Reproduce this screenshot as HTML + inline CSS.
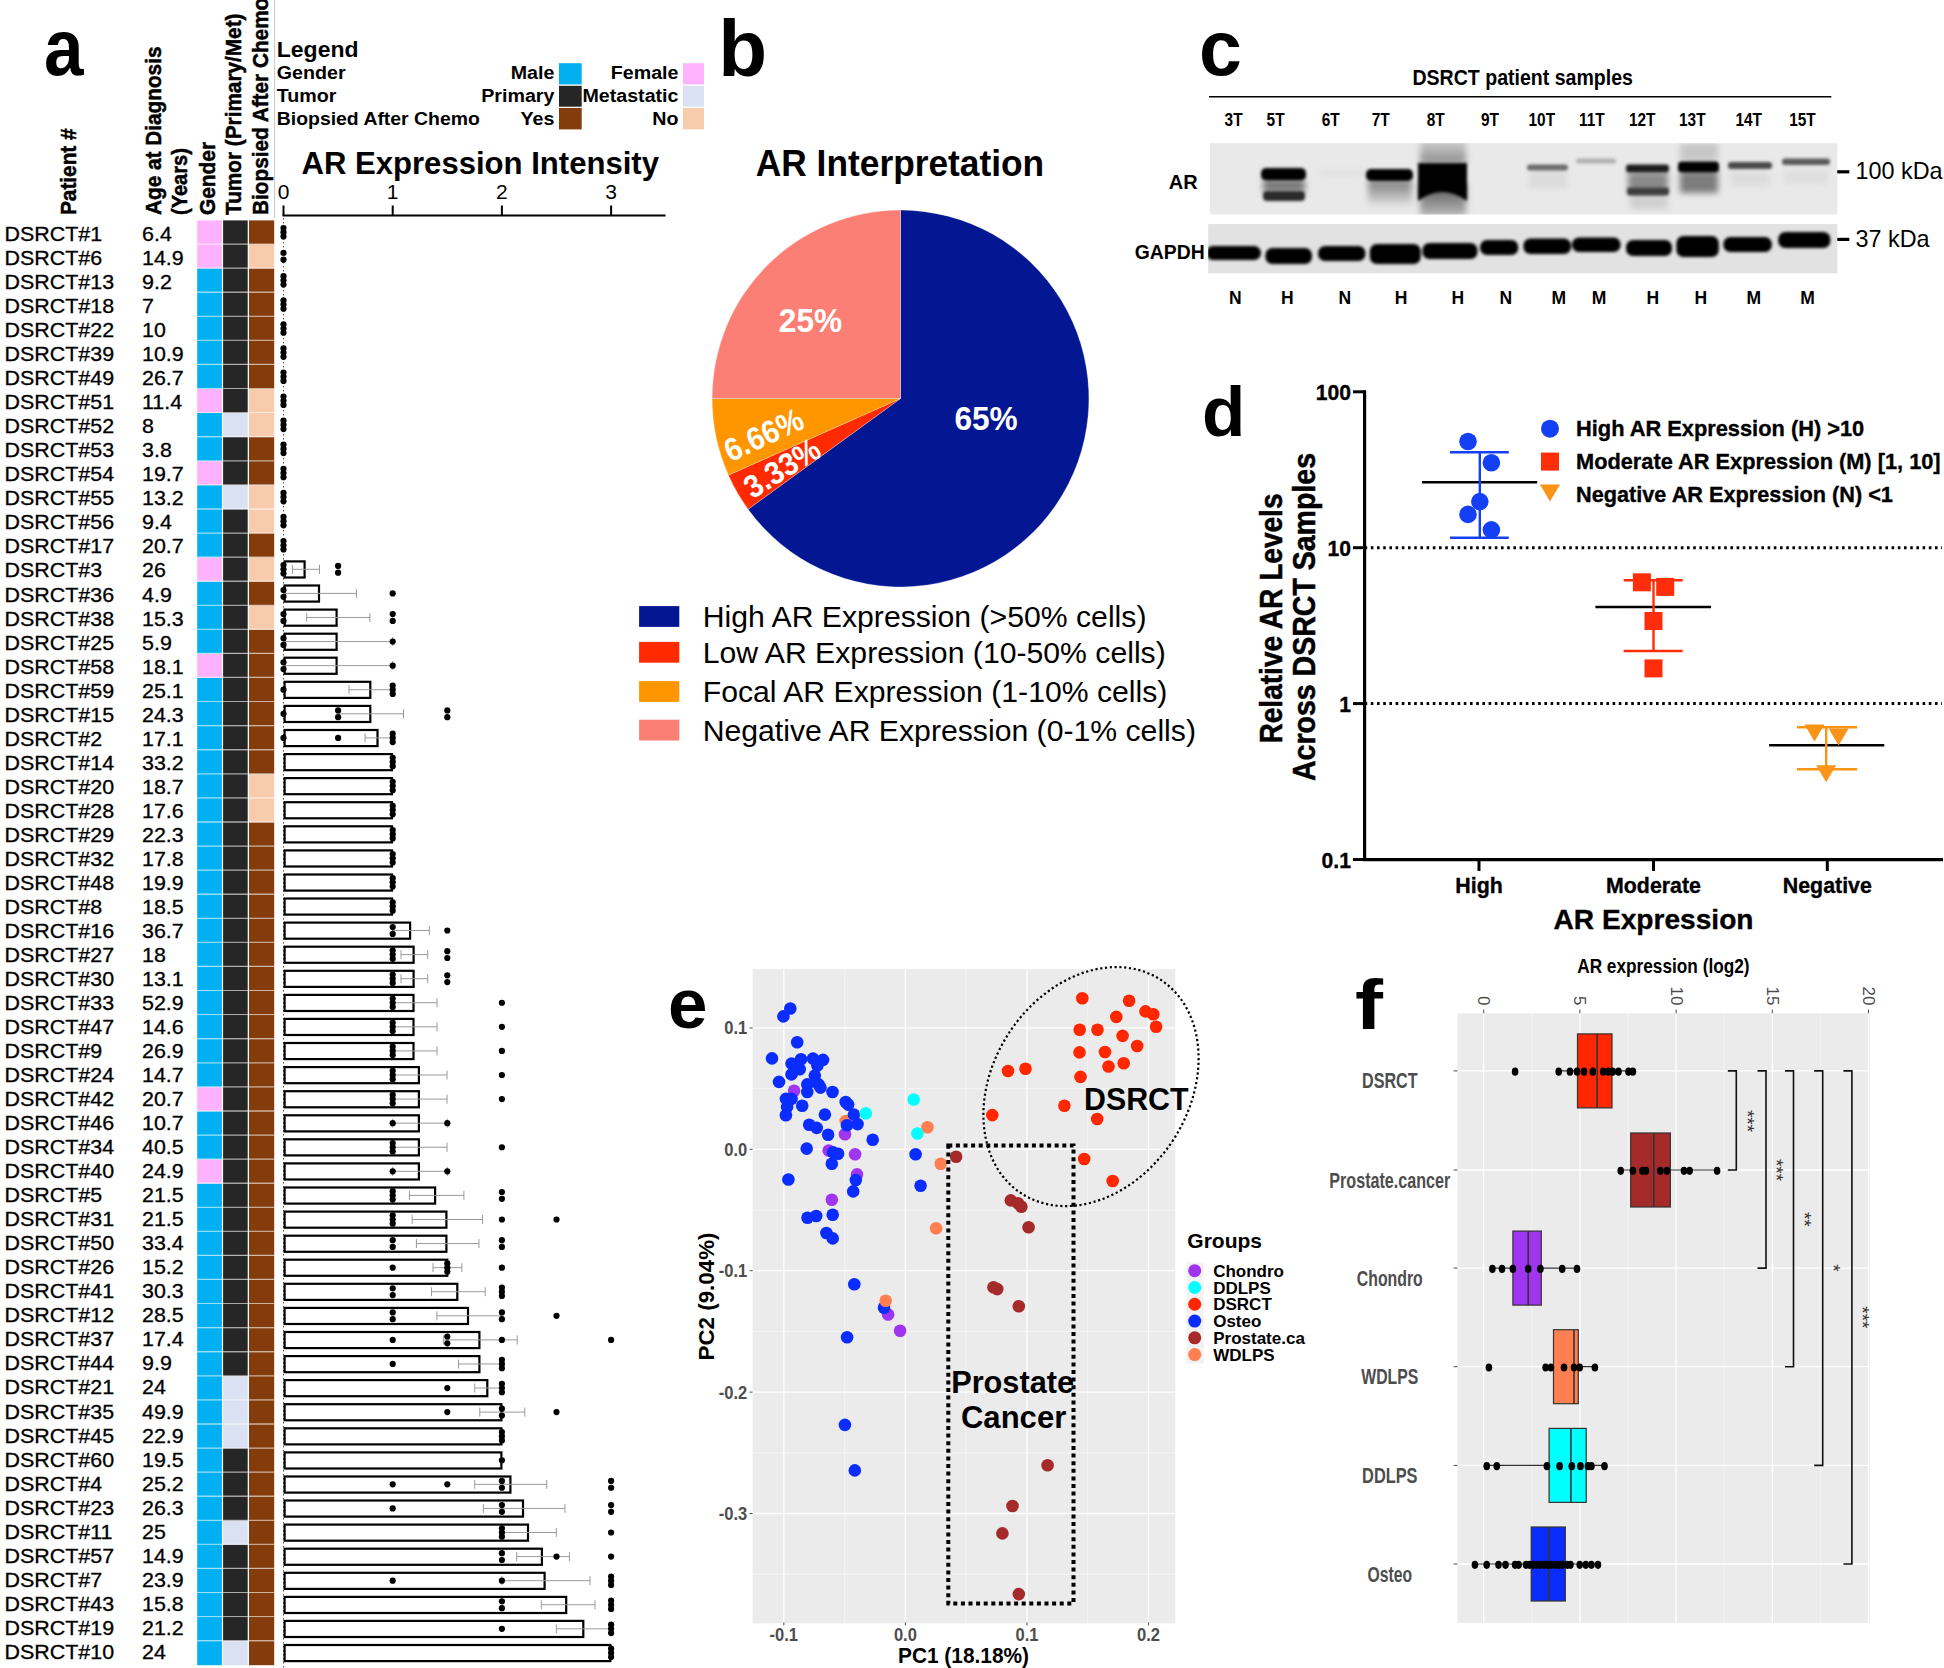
<!DOCTYPE html>
<html><head><meta charset="utf-8"><title>AR expression in DSRCT</title>
<style>
html,body{margin:0;padding:0;background:#fff;overflow:hidden;}
svg{display:block;font-family:"Liberation Sans",Arial,Helvetica,sans-serif;}
</style></head>
<body>
<svg width="1944" height="1668" viewBox="0 0 1944 1668">
<rect x="0" y="0" width="1944" height="1668" fill="#fff"/>
<text x="44.0" y="74.6" font-size="79" font-weight="bold" textLength="39.5" lengthAdjust="spacingAndGlyphs">a</text>
<text x="75.5" y="215.0" font-size="22.2" font-weight="bold" textLength="86.6" lengthAdjust="spacingAndGlyphs" transform="rotate(-90 75.5 215.0)" stroke="#000" stroke-width="0.5">Patient #</text>
<text x="160.9" y="215.0" font-size="22.2" font-weight="bold" textLength="168.5" lengthAdjust="spacingAndGlyphs" transform="rotate(-90 160.9 215.0)" stroke="#000" stroke-width="0.5">Age at Diagnosis</text>
<text x="187.2" y="215.0" font-size="22.2" font-weight="bold" textLength="66.9" lengthAdjust="spacingAndGlyphs" transform="rotate(-90 187.2 215.0)" stroke="#000" stroke-width="0.5">(Years)</text>
<text x="215.3" y="215.0" font-size="22.2" font-weight="bold" textLength="73.1" lengthAdjust="spacingAndGlyphs" transform="rotate(-90 215.3 215.0)" stroke="#000" stroke-width="0.5">Gender</text>
<text x="241.1" y="215.0" font-size="22.2" font-weight="bold" textLength="201.5" lengthAdjust="spacingAndGlyphs" transform="rotate(-90 241.1 215.0)" stroke="#000" stroke-width="0.5">Tumor (Primary/Met)</text>
<text x="267.5" y="215.0" font-size="22.2" font-weight="bold" textLength="217.3" lengthAdjust="spacingAndGlyphs" transform="rotate(-90 267.5 215.0)" stroke="#000" stroke-width="0.5">Biopsied After Chemo</text>
<line x1="274.60" y1="0.00" x2="274.60" y2="218.00" stroke="#c8c8c8" stroke-width="1" />
<text x="276.8" y="56.7" font-size="22" font-weight="bold" textLength="81.7" lengthAdjust="spacingAndGlyphs">Legend</text>
<text x="276.8" y="79.4" font-size="18.8" font-weight="bold" textLength="68.8" lengthAdjust="spacingAndGlyphs">Gender</text>
<text x="276.8" y="102.2" font-size="18.8" font-weight="bold" textLength="59.7" lengthAdjust="spacingAndGlyphs">Tumor</text>
<text x="276.8" y="124.6" font-size="18.8" font-weight="bold" textLength="203.0" lengthAdjust="spacingAndGlyphs">Biopsied After Chemo</text>
<text x="554.4" y="79.4" font-size="18.8" font-weight="bold" text-anchor="end" textLength="43.7" lengthAdjust="spacingAndGlyphs">Male</text>
<text x="554.4" y="102.2" font-size="18.8" font-weight="bold" text-anchor="end" textLength="73.2" lengthAdjust="spacingAndGlyphs">Primary</text>
<text x="554.4" y="124.6" font-size="18.8" font-weight="bold" text-anchor="end" textLength="33.9" lengthAdjust="spacingAndGlyphs">Yes</text>
<text x="678.5" y="79.4" font-size="18.8" font-weight="bold" text-anchor="end" textLength="67.7" lengthAdjust="spacingAndGlyphs">Female</text>
<text x="678.5" y="102.2" font-size="18.8" font-weight="bold" text-anchor="end" textLength="96.1" lengthAdjust="spacingAndGlyphs">Metastatic</text>
<text x="678.5" y="124.6" font-size="18.8" font-weight="bold" text-anchor="end" textLength="26.2" lengthAdjust="spacingAndGlyphs">No</text>
<rect x="559.00" y="63.20" width="22.70" height="21.20" fill="#00b0f0" />
<rect x="683.00" y="63.20" width="21.00" height="21.20" fill="#ffb3ff" />
<rect x="559.00" y="85.80" width="22.70" height="20.90" fill="#262626" />
<rect x="683.00" y="85.80" width="21.00" height="20.90" fill="#d9e1f2" />
<rect x="559.00" y="108.00" width="22.70" height="21.40" fill="#843c0c" />
<rect x="683.00" y="108.00" width="21.00" height="21.40" fill="#f8cbad" />
<text x="301.5" y="174.3" font-size="31" font-weight="bold" textLength="357.5" lengthAdjust="spacingAndGlyphs">AR Expression Intensity</text>
<line x1="282.50" y1="215.50" x2="665.50" y2="215.50" stroke="#000" stroke-width="2.2" />
<line x1="283.50" y1="205.50" x2="283.50" y2="215.50" stroke="#000" stroke-width="2" />
<text x="283.5" y="199.3" font-size="21" text-anchor="middle">0</text>
<line x1="392.70" y1="205.50" x2="392.70" y2="215.50" stroke="#000" stroke-width="2" />
<text x="392.7" y="199.3" font-size="21" text-anchor="middle">1</text>
<line x1="501.90" y1="205.50" x2="501.90" y2="215.50" stroke="#000" stroke-width="2" />
<text x="501.9" y="199.3" font-size="21" text-anchor="middle">2</text>
<line x1="611.10" y1="205.50" x2="611.10" y2="215.50" stroke="#000" stroke-width="2" />
<text x="611.1" y="199.3" font-size="21" text-anchor="middle">3</text>
<g font-size="20.5" stroke="#000" stroke-width="0.3">
<text x="4.6" y="241.0" textLength="97.6" lengthAdjust="spacingAndGlyphs">DSRCT#1</text>
<text x="142.0" y="241.0" textLength="29.8" lengthAdjust="spacingAndGlyphs">6.4</text>
<text x="4.6" y="265.0" textLength="97.6" lengthAdjust="spacingAndGlyphs">DSRCT#6</text>
<text x="142.0" y="265.0" textLength="41.7" lengthAdjust="spacingAndGlyphs">14.9</text>
<text x="4.6" y="289.1" textLength="109.5" lengthAdjust="spacingAndGlyphs">DSRCT#13</text>
<text x="142.0" y="289.1" textLength="29.8" lengthAdjust="spacingAndGlyphs">9.2</text>
<text x="4.6" y="313.1" textLength="109.5" lengthAdjust="spacingAndGlyphs">DSRCT#18</text>
<text x="142.0" y="313.1" textLength="11.9" lengthAdjust="spacingAndGlyphs">7</text>
<text x="4.6" y="337.1" textLength="109.5" lengthAdjust="spacingAndGlyphs">DSRCT#22</text>
<text x="142.0" y="337.1" textLength="23.8" lengthAdjust="spacingAndGlyphs">10</text>
<text x="4.6" y="361.1" textLength="109.5" lengthAdjust="spacingAndGlyphs">DSRCT#39</text>
<text x="142.0" y="361.1" textLength="41.7" lengthAdjust="spacingAndGlyphs">10.9</text>
<text x="4.6" y="385.2" textLength="109.5" lengthAdjust="spacingAndGlyphs">DSRCT#49</text>
<text x="142.0" y="385.2" textLength="41.7" lengthAdjust="spacingAndGlyphs">26.7</text>
<text x="4.6" y="409.2" textLength="109.5" lengthAdjust="spacingAndGlyphs">DSRCT#51</text>
<text x="142.0" y="409.2" textLength="40.1" lengthAdjust="spacingAndGlyphs">11.4</text>
<text x="4.6" y="433.2" textLength="109.5" lengthAdjust="spacingAndGlyphs">DSRCT#52</text>
<text x="142.0" y="433.2" textLength="11.9" lengthAdjust="spacingAndGlyphs">8</text>
<text x="4.6" y="457.3" textLength="109.5" lengthAdjust="spacingAndGlyphs">DSRCT#53</text>
<text x="142.0" y="457.3" textLength="29.8" lengthAdjust="spacingAndGlyphs">3.8</text>
<text x="4.6" y="481.3" textLength="109.5" lengthAdjust="spacingAndGlyphs">DSRCT#54</text>
<text x="142.0" y="481.3" textLength="41.7" lengthAdjust="spacingAndGlyphs">19.7</text>
<text x="4.6" y="505.3" textLength="109.5" lengthAdjust="spacingAndGlyphs">DSRCT#55</text>
<text x="142.0" y="505.3" textLength="41.7" lengthAdjust="spacingAndGlyphs">13.2</text>
<text x="4.6" y="529.4" textLength="109.5" lengthAdjust="spacingAndGlyphs">DSRCT#56</text>
<text x="142.0" y="529.4" textLength="29.8" lengthAdjust="spacingAndGlyphs">9.4</text>
<text x="4.6" y="553.4" textLength="109.5" lengthAdjust="spacingAndGlyphs">DSRCT#17</text>
<text x="142.0" y="553.4" textLength="41.7" lengthAdjust="spacingAndGlyphs">20.7</text>
<text x="4.6" y="577.4" textLength="97.6" lengthAdjust="spacingAndGlyphs">DSRCT#3</text>
<text x="142.0" y="577.4" textLength="23.8" lengthAdjust="spacingAndGlyphs">26</text>
<text x="4.6" y="601.5" textLength="109.5" lengthAdjust="spacingAndGlyphs">DSRCT#36</text>
<text x="142.0" y="601.5" textLength="29.8" lengthAdjust="spacingAndGlyphs">4.9</text>
<text x="4.6" y="625.5" textLength="109.5" lengthAdjust="spacingAndGlyphs">DSRCT#38</text>
<text x="142.0" y="625.5" textLength="41.7" lengthAdjust="spacingAndGlyphs">15.3</text>
<text x="4.6" y="649.5" textLength="109.5" lengthAdjust="spacingAndGlyphs">DSRCT#25</text>
<text x="142.0" y="649.5" textLength="29.8" lengthAdjust="spacingAndGlyphs">5.9</text>
<text x="4.6" y="673.5" textLength="109.5" lengthAdjust="spacingAndGlyphs">DSRCT#58</text>
<text x="142.0" y="673.5" textLength="41.7" lengthAdjust="spacingAndGlyphs">18.1</text>
<text x="4.6" y="697.6" textLength="109.5" lengthAdjust="spacingAndGlyphs">DSRCT#59</text>
<text x="142.0" y="697.6" textLength="41.7" lengthAdjust="spacingAndGlyphs">25.1</text>
<text x="4.6" y="721.6" textLength="109.5" lengthAdjust="spacingAndGlyphs">DSRCT#15</text>
<text x="142.0" y="721.6" textLength="41.7" lengthAdjust="spacingAndGlyphs">24.3</text>
<text x="4.6" y="745.6" textLength="97.6" lengthAdjust="spacingAndGlyphs">DSRCT#2</text>
<text x="142.0" y="745.6" textLength="41.7" lengthAdjust="spacingAndGlyphs">17.1</text>
<text x="4.6" y="769.7" textLength="109.5" lengthAdjust="spacingAndGlyphs">DSRCT#14</text>
<text x="142.0" y="769.7" textLength="41.7" lengthAdjust="spacingAndGlyphs">33.2</text>
<text x="4.6" y="793.7" textLength="109.5" lengthAdjust="spacingAndGlyphs">DSRCT#20</text>
<text x="142.0" y="793.7" textLength="41.7" lengthAdjust="spacingAndGlyphs">18.7</text>
<text x="4.6" y="817.7" textLength="109.5" lengthAdjust="spacingAndGlyphs">DSRCT#28</text>
<text x="142.0" y="817.7" textLength="41.7" lengthAdjust="spacingAndGlyphs">17.6</text>
<text x="4.6" y="841.8" textLength="109.5" lengthAdjust="spacingAndGlyphs">DSRCT#29</text>
<text x="142.0" y="841.8" textLength="41.7" lengthAdjust="spacingAndGlyphs">22.3</text>
<text x="4.6" y="865.8" textLength="109.5" lengthAdjust="spacingAndGlyphs">DSRCT#32</text>
<text x="142.0" y="865.8" textLength="41.7" lengthAdjust="spacingAndGlyphs">17.8</text>
<text x="4.6" y="889.8" textLength="109.5" lengthAdjust="spacingAndGlyphs">DSRCT#48</text>
<text x="142.0" y="889.8" textLength="41.7" lengthAdjust="spacingAndGlyphs">19.9</text>
<text x="4.6" y="913.8" textLength="97.6" lengthAdjust="spacingAndGlyphs">DSRCT#8</text>
<text x="142.0" y="913.8" textLength="41.7" lengthAdjust="spacingAndGlyphs">18.5</text>
<text x="4.6" y="937.9" textLength="109.5" lengthAdjust="spacingAndGlyphs">DSRCT#16</text>
<text x="142.0" y="937.9" textLength="41.7" lengthAdjust="spacingAndGlyphs">36.7</text>
<text x="4.6" y="961.9" textLength="109.5" lengthAdjust="spacingAndGlyphs">DSRCT#27</text>
<text x="142.0" y="961.9" textLength="23.8" lengthAdjust="spacingAndGlyphs">18</text>
<text x="4.6" y="985.9" textLength="109.5" lengthAdjust="spacingAndGlyphs">DSRCT#30</text>
<text x="142.0" y="985.9" textLength="41.7" lengthAdjust="spacingAndGlyphs">13.1</text>
<text x="4.6" y="1010.0" textLength="109.5" lengthAdjust="spacingAndGlyphs">DSRCT#33</text>
<text x="142.0" y="1010.0" textLength="41.7" lengthAdjust="spacingAndGlyphs">52.9</text>
<text x="4.6" y="1034.0" textLength="109.5" lengthAdjust="spacingAndGlyphs">DSRCT#47</text>
<text x="142.0" y="1034.0" textLength="41.7" lengthAdjust="spacingAndGlyphs">14.6</text>
<text x="4.6" y="1058.0" textLength="97.6" lengthAdjust="spacingAndGlyphs">DSRCT#9</text>
<text x="142.0" y="1058.0" textLength="41.7" lengthAdjust="spacingAndGlyphs">26.9</text>
<text x="4.6" y="1082.1" textLength="109.5" lengthAdjust="spacingAndGlyphs">DSRCT#24</text>
<text x="142.0" y="1082.1" textLength="41.7" lengthAdjust="spacingAndGlyphs">14.7</text>
<text x="4.6" y="1106.1" textLength="109.5" lengthAdjust="spacingAndGlyphs">DSRCT#42</text>
<text x="142.0" y="1106.1" textLength="41.7" lengthAdjust="spacingAndGlyphs">20.7</text>
<text x="4.6" y="1130.1" textLength="109.5" lengthAdjust="spacingAndGlyphs">DSRCT#46</text>
<text x="142.0" y="1130.1" textLength="41.7" lengthAdjust="spacingAndGlyphs">10.7</text>
<text x="4.6" y="1154.1" textLength="109.5" lengthAdjust="spacingAndGlyphs">DSRCT#34</text>
<text x="142.0" y="1154.1" textLength="41.7" lengthAdjust="spacingAndGlyphs">40.5</text>
<text x="4.6" y="1178.2" textLength="109.5" lengthAdjust="spacingAndGlyphs">DSRCT#40</text>
<text x="142.0" y="1178.2" textLength="41.7" lengthAdjust="spacingAndGlyphs">24.9</text>
<text x="4.6" y="1202.2" textLength="97.6" lengthAdjust="spacingAndGlyphs">DSRCT#5</text>
<text x="142.0" y="1202.2" textLength="41.7" lengthAdjust="spacingAndGlyphs">21.5</text>
<text x="4.6" y="1226.2" textLength="109.5" lengthAdjust="spacingAndGlyphs">DSRCT#31</text>
<text x="142.0" y="1226.2" textLength="41.7" lengthAdjust="spacingAndGlyphs">21.5</text>
<text x="4.6" y="1250.3" textLength="109.5" lengthAdjust="spacingAndGlyphs">DSRCT#50</text>
<text x="142.0" y="1250.3" textLength="41.7" lengthAdjust="spacingAndGlyphs">33.4</text>
<text x="4.6" y="1274.3" textLength="109.5" lengthAdjust="spacingAndGlyphs">DSRCT#26</text>
<text x="142.0" y="1274.3" textLength="41.7" lengthAdjust="spacingAndGlyphs">15.2</text>
<text x="4.6" y="1298.3" textLength="109.5" lengthAdjust="spacingAndGlyphs">DSRCT#41</text>
<text x="142.0" y="1298.3" textLength="41.7" lengthAdjust="spacingAndGlyphs">30.3</text>
<text x="4.6" y="1322.4" textLength="109.5" lengthAdjust="spacingAndGlyphs">DSRCT#12</text>
<text x="142.0" y="1322.4" textLength="41.7" lengthAdjust="spacingAndGlyphs">28.5</text>
<text x="4.6" y="1346.4" textLength="109.5" lengthAdjust="spacingAndGlyphs">DSRCT#37</text>
<text x="142.0" y="1346.4" textLength="41.7" lengthAdjust="spacingAndGlyphs">17.4</text>
<text x="4.6" y="1370.4" textLength="109.5" lengthAdjust="spacingAndGlyphs">DSRCT#44</text>
<text x="142.0" y="1370.4" textLength="29.8" lengthAdjust="spacingAndGlyphs">9.9</text>
<text x="4.6" y="1394.4" textLength="109.5" lengthAdjust="spacingAndGlyphs">DSRCT#21</text>
<text x="142.0" y="1394.4" textLength="23.8" lengthAdjust="spacingAndGlyphs">24</text>
<text x="4.6" y="1418.5" textLength="109.5" lengthAdjust="spacingAndGlyphs">DSRCT#35</text>
<text x="142.0" y="1418.5" textLength="41.7" lengthAdjust="spacingAndGlyphs">49.9</text>
<text x="4.6" y="1442.5" textLength="109.5" lengthAdjust="spacingAndGlyphs">DSRCT#45</text>
<text x="142.0" y="1442.5" textLength="41.7" lengthAdjust="spacingAndGlyphs">22.9</text>
<text x="4.6" y="1466.5" textLength="109.5" lengthAdjust="spacingAndGlyphs">DSRCT#60</text>
<text x="142.0" y="1466.5" textLength="41.7" lengthAdjust="spacingAndGlyphs">19.5</text>
<text x="4.6" y="1490.6" textLength="97.6" lengthAdjust="spacingAndGlyphs">DSRCT#4</text>
<text x="142.0" y="1490.6" textLength="41.7" lengthAdjust="spacingAndGlyphs">25.2</text>
<text x="4.6" y="1514.6" textLength="109.5" lengthAdjust="spacingAndGlyphs">DSRCT#23</text>
<text x="142.0" y="1514.6" textLength="41.7" lengthAdjust="spacingAndGlyphs">26.3</text>
<text x="4.6" y="1538.6" textLength="107.9" lengthAdjust="spacingAndGlyphs">DSRCT#11</text>
<text x="142.0" y="1538.6" textLength="23.8" lengthAdjust="spacingAndGlyphs">25</text>
<text x="4.6" y="1562.7" textLength="109.5" lengthAdjust="spacingAndGlyphs">DSRCT#57</text>
<text x="142.0" y="1562.7" textLength="41.7" lengthAdjust="spacingAndGlyphs">14.9</text>
<text x="4.6" y="1586.7" textLength="97.6" lengthAdjust="spacingAndGlyphs">DSRCT#7</text>
<text x="142.0" y="1586.7" textLength="41.7" lengthAdjust="spacingAndGlyphs">23.9</text>
<text x="4.6" y="1610.7" textLength="109.5" lengthAdjust="spacingAndGlyphs">DSRCT#43</text>
<text x="142.0" y="1610.7" textLength="41.7" lengthAdjust="spacingAndGlyphs">15.8</text>
<text x="4.6" y="1634.7" textLength="109.5" lengthAdjust="spacingAndGlyphs">DSRCT#19</text>
<text x="142.0" y="1634.7" textLength="41.7" lengthAdjust="spacingAndGlyphs">21.2</text>
<text x="4.6" y="1658.8" textLength="109.5" lengthAdjust="spacingAndGlyphs">DSRCT#10</text>
<text x="142.0" y="1658.8" textLength="23.8" lengthAdjust="spacingAndGlyphs">24</text>
</g>
<rect x="197.20" y="220.40" width="24.70" height="24.08" fill="#ffb3ff" />
<rect x="223.10" y="220.40" width="24.60" height="24.08" fill="#262626" />
<rect x="249.00" y="220.40" width="25.20" height="24.08" fill="#843c0c" />
<rect x="197.20" y="244.48" width="24.70" height="24.08" fill="#ffb3ff" />
<rect x="223.10" y="244.48" width="24.60" height="24.08" fill="#262626" />
<rect x="249.00" y="244.48" width="25.20" height="24.08" fill="#f8cbad" />
<rect x="197.20" y="268.56" width="24.70" height="24.08" fill="#00b0f0" />
<rect x="223.10" y="268.56" width="24.60" height="24.08" fill="#262626" />
<rect x="249.00" y="268.56" width="25.20" height="24.08" fill="#843c0c" />
<rect x="197.20" y="292.64" width="24.70" height="24.08" fill="#00b0f0" />
<rect x="223.10" y="292.64" width="24.60" height="24.08" fill="#262626" />
<rect x="249.00" y="292.64" width="25.20" height="24.08" fill="#843c0c" />
<rect x="197.20" y="316.72" width="24.70" height="24.08" fill="#00b0f0" />
<rect x="223.10" y="316.72" width="24.60" height="24.08" fill="#262626" />
<rect x="249.00" y="316.72" width="25.20" height="24.08" fill="#843c0c" />
<rect x="197.20" y="340.80" width="24.70" height="24.08" fill="#00b0f0" />
<rect x="223.10" y="340.80" width="24.60" height="24.08" fill="#262626" />
<rect x="249.00" y="340.80" width="25.20" height="24.08" fill="#843c0c" />
<rect x="197.20" y="364.88" width="24.70" height="24.08" fill="#00b0f0" />
<rect x="223.10" y="364.88" width="24.60" height="24.08" fill="#262626" />
<rect x="249.00" y="364.88" width="25.20" height="24.08" fill="#843c0c" />
<rect x="197.20" y="388.96" width="24.70" height="24.08" fill="#ffb3ff" />
<rect x="223.10" y="388.96" width="24.60" height="24.08" fill="#262626" />
<rect x="249.00" y="388.96" width="25.20" height="24.08" fill="#f8cbad" />
<rect x="197.20" y="413.04" width="24.70" height="24.08" fill="#00b0f0" />
<rect x="223.10" y="413.04" width="24.60" height="24.08" fill="#d9e1f2" />
<rect x="249.00" y="413.04" width="25.20" height="24.08" fill="#f8cbad" />
<rect x="197.20" y="437.12" width="24.70" height="24.08" fill="#00b0f0" />
<rect x="223.10" y="437.12" width="24.60" height="24.08" fill="#262626" />
<rect x="249.00" y="437.12" width="25.20" height="24.08" fill="#843c0c" />
<rect x="197.20" y="461.20" width="24.70" height="24.08" fill="#ffb3ff" />
<rect x="223.10" y="461.20" width="24.60" height="24.08" fill="#262626" />
<rect x="249.00" y="461.20" width="25.20" height="24.08" fill="#843c0c" />
<rect x="197.20" y="485.28" width="24.70" height="24.08" fill="#00b0f0" />
<rect x="223.10" y="485.28" width="24.60" height="24.08" fill="#d9e1f2" />
<rect x="249.00" y="485.28" width="25.20" height="24.08" fill="#f8cbad" />
<rect x="197.20" y="509.36" width="24.70" height="24.08" fill="#00b0f0" />
<rect x="223.10" y="509.36" width="24.60" height="24.08" fill="#262626" />
<rect x="249.00" y="509.36" width="25.20" height="24.08" fill="#f8cbad" />
<rect x="197.20" y="533.44" width="24.70" height="24.08" fill="#00b0f0" />
<rect x="223.10" y="533.44" width="24.60" height="24.08" fill="#262626" />
<rect x="249.00" y="533.44" width="25.20" height="24.08" fill="#843c0c" />
<rect x="197.20" y="557.52" width="24.70" height="24.08" fill="#ffb3ff" />
<rect x="223.10" y="557.52" width="24.60" height="24.08" fill="#262626" />
<rect x="249.00" y="557.52" width="25.20" height="24.08" fill="#f8cbad" />
<rect x="197.20" y="581.60" width="24.70" height="24.08" fill="#00b0f0" />
<rect x="223.10" y="581.60" width="24.60" height="24.08" fill="#262626" />
<rect x="249.00" y="581.60" width="25.20" height="24.08" fill="#843c0c" />
<rect x="197.20" y="605.68" width="24.70" height="24.08" fill="#00b0f0" />
<rect x="223.10" y="605.68" width="24.60" height="24.08" fill="#262626" />
<rect x="249.00" y="605.68" width="25.20" height="24.08" fill="#f8cbad" />
<rect x="197.20" y="629.76" width="24.70" height="24.08" fill="#00b0f0" />
<rect x="223.10" y="629.76" width="24.60" height="24.08" fill="#262626" />
<rect x="249.00" y="629.76" width="25.20" height="24.08" fill="#843c0c" />
<rect x="197.20" y="653.84" width="24.70" height="24.08" fill="#ffb3ff" />
<rect x="223.10" y="653.84" width="24.60" height="24.08" fill="#262626" />
<rect x="249.00" y="653.84" width="25.20" height="24.08" fill="#843c0c" />
<rect x="197.20" y="677.92" width="24.70" height="24.08" fill="#00b0f0" />
<rect x="223.10" y="677.92" width="24.60" height="24.08" fill="#262626" />
<rect x="249.00" y="677.92" width="25.20" height="24.08" fill="#843c0c" />
<rect x="197.20" y="702.00" width="24.70" height="24.08" fill="#00b0f0" />
<rect x="223.10" y="702.00" width="24.60" height="24.08" fill="#262626" />
<rect x="249.00" y="702.00" width="25.20" height="24.08" fill="#843c0c" />
<rect x="197.20" y="726.08" width="24.70" height="24.08" fill="#00b0f0" />
<rect x="223.10" y="726.08" width="24.60" height="24.08" fill="#262626" />
<rect x="249.00" y="726.08" width="25.20" height="24.08" fill="#843c0c" />
<rect x="197.20" y="750.16" width="24.70" height="24.08" fill="#00b0f0" />
<rect x="223.10" y="750.16" width="24.60" height="24.08" fill="#262626" />
<rect x="249.00" y="750.16" width="25.20" height="24.08" fill="#843c0c" />
<rect x="197.20" y="774.24" width="24.70" height="24.08" fill="#00b0f0" />
<rect x="223.10" y="774.24" width="24.60" height="24.08" fill="#262626" />
<rect x="249.00" y="774.24" width="25.20" height="24.08" fill="#f8cbad" />
<rect x="197.20" y="798.32" width="24.70" height="24.08" fill="#00b0f0" />
<rect x="223.10" y="798.32" width="24.60" height="24.08" fill="#262626" />
<rect x="249.00" y="798.32" width="25.20" height="24.08" fill="#f8cbad" />
<rect x="197.20" y="822.40" width="24.70" height="24.08" fill="#00b0f0" />
<rect x="223.10" y="822.40" width="24.60" height="24.08" fill="#262626" />
<rect x="249.00" y="822.40" width="25.20" height="24.08" fill="#843c0c" />
<rect x="197.20" y="846.48" width="24.70" height="24.08" fill="#00b0f0" />
<rect x="223.10" y="846.48" width="24.60" height="24.08" fill="#262626" />
<rect x="249.00" y="846.48" width="25.20" height="24.08" fill="#843c0c" />
<rect x="197.20" y="870.56" width="24.70" height="24.08" fill="#00b0f0" />
<rect x="223.10" y="870.56" width="24.60" height="24.08" fill="#262626" />
<rect x="249.00" y="870.56" width="25.20" height="24.08" fill="#843c0c" />
<rect x="197.20" y="894.64" width="24.70" height="24.08" fill="#00b0f0" />
<rect x="223.10" y="894.64" width="24.60" height="24.08" fill="#262626" />
<rect x="249.00" y="894.64" width="25.20" height="24.08" fill="#843c0c" />
<rect x="197.20" y="918.72" width="24.70" height="24.08" fill="#00b0f0" />
<rect x="223.10" y="918.72" width="24.60" height="24.08" fill="#262626" />
<rect x="249.00" y="918.72" width="25.20" height="24.08" fill="#843c0c" />
<rect x="197.20" y="942.80" width="24.70" height="24.08" fill="#00b0f0" />
<rect x="223.10" y="942.80" width="24.60" height="24.08" fill="#262626" />
<rect x="249.00" y="942.80" width="25.20" height="24.08" fill="#843c0c" />
<rect x="197.20" y="966.88" width="24.70" height="24.08" fill="#00b0f0" />
<rect x="223.10" y="966.88" width="24.60" height="24.08" fill="#262626" />
<rect x="249.00" y="966.88" width="25.20" height="24.08" fill="#843c0c" />
<rect x="197.20" y="990.96" width="24.70" height="24.08" fill="#00b0f0" />
<rect x="223.10" y="990.96" width="24.60" height="24.08" fill="#262626" />
<rect x="249.00" y="990.96" width="25.20" height="24.08" fill="#843c0c" />
<rect x="197.20" y="1015.04" width="24.70" height="24.08" fill="#00b0f0" />
<rect x="223.10" y="1015.04" width="24.60" height="24.08" fill="#262626" />
<rect x="249.00" y="1015.04" width="25.20" height="24.08" fill="#843c0c" />
<rect x="197.20" y="1039.12" width="24.70" height="24.08" fill="#00b0f0" />
<rect x="223.10" y="1039.12" width="24.60" height="24.08" fill="#262626" />
<rect x="249.00" y="1039.12" width="25.20" height="24.08" fill="#843c0c" />
<rect x="197.20" y="1063.20" width="24.70" height="24.08" fill="#00b0f0" />
<rect x="223.10" y="1063.20" width="24.60" height="24.08" fill="#262626" />
<rect x="249.00" y="1063.20" width="25.20" height="24.08" fill="#843c0c" />
<rect x="197.20" y="1087.28" width="24.70" height="24.08" fill="#ffb3ff" />
<rect x="223.10" y="1087.28" width="24.60" height="24.08" fill="#262626" />
<rect x="249.00" y="1087.28" width="25.20" height="24.08" fill="#843c0c" />
<rect x="197.20" y="1111.36" width="24.70" height="24.08" fill="#00b0f0" />
<rect x="223.10" y="1111.36" width="24.60" height="24.08" fill="#262626" />
<rect x="249.00" y="1111.36" width="25.20" height="24.08" fill="#843c0c" />
<rect x="197.20" y="1135.44" width="24.70" height="24.08" fill="#00b0f0" />
<rect x="223.10" y="1135.44" width="24.60" height="24.08" fill="#262626" />
<rect x="249.00" y="1135.44" width="25.20" height="24.08" fill="#843c0c" />
<rect x="197.20" y="1159.52" width="24.70" height="24.08" fill="#ffb3ff" />
<rect x="223.10" y="1159.52" width="24.60" height="24.08" fill="#262626" />
<rect x="249.00" y="1159.52" width="25.20" height="24.08" fill="#843c0c" />
<rect x="197.20" y="1183.60" width="24.70" height="24.08" fill="#00b0f0" />
<rect x="223.10" y="1183.60" width="24.60" height="24.08" fill="#262626" />
<rect x="249.00" y="1183.60" width="25.20" height="24.08" fill="#843c0c" />
<rect x="197.20" y="1207.68" width="24.70" height="24.08" fill="#00b0f0" />
<rect x="223.10" y="1207.68" width="24.60" height="24.08" fill="#262626" />
<rect x="249.00" y="1207.68" width="25.20" height="24.08" fill="#843c0c" />
<rect x="197.20" y="1231.76" width="24.70" height="24.08" fill="#00b0f0" />
<rect x="223.10" y="1231.76" width="24.60" height="24.08" fill="#262626" />
<rect x="249.00" y="1231.76" width="25.20" height="24.08" fill="#843c0c" />
<rect x="197.20" y="1255.84" width="24.70" height="24.08" fill="#00b0f0" />
<rect x="223.10" y="1255.84" width="24.60" height="24.08" fill="#262626" />
<rect x="249.00" y="1255.84" width="25.20" height="24.08" fill="#843c0c" />
<rect x="197.20" y="1279.92" width="24.70" height="24.08" fill="#00b0f0" />
<rect x="223.10" y="1279.92" width="24.60" height="24.08" fill="#262626" />
<rect x="249.00" y="1279.92" width="25.20" height="24.08" fill="#843c0c" />
<rect x="197.20" y="1304.00" width="24.70" height="24.08" fill="#00b0f0" />
<rect x="223.10" y="1304.00" width="24.60" height="24.08" fill="#262626" />
<rect x="249.00" y="1304.00" width="25.20" height="24.08" fill="#843c0c" />
<rect x="197.20" y="1328.08" width="24.70" height="24.08" fill="#00b0f0" />
<rect x="223.10" y="1328.08" width="24.60" height="24.08" fill="#262626" />
<rect x="249.00" y="1328.08" width="25.20" height="24.08" fill="#843c0c" />
<rect x="197.20" y="1352.16" width="24.70" height="24.08" fill="#00b0f0" />
<rect x="223.10" y="1352.16" width="24.60" height="24.08" fill="#262626" />
<rect x="249.00" y="1352.16" width="25.20" height="24.08" fill="#843c0c" />
<rect x="197.20" y="1376.24" width="24.70" height="24.08" fill="#00b0f0" />
<rect x="223.10" y="1376.24" width="24.60" height="24.08" fill="#d9e1f2" />
<rect x="249.00" y="1376.24" width="25.20" height="24.08" fill="#843c0c" />
<rect x="197.20" y="1400.32" width="24.70" height="24.08" fill="#00b0f0" />
<rect x="223.10" y="1400.32" width="24.60" height="24.08" fill="#d9e1f2" />
<rect x="249.00" y="1400.32" width="25.20" height="24.08" fill="#843c0c" />
<rect x="197.20" y="1424.40" width="24.70" height="24.08" fill="#00b0f0" />
<rect x="223.10" y="1424.40" width="24.60" height="24.08" fill="#d9e1f2" />
<rect x="249.00" y="1424.40" width="25.20" height="24.08" fill="#843c0c" />
<rect x="197.20" y="1448.48" width="24.70" height="24.08" fill="#00b0f0" />
<rect x="223.10" y="1448.48" width="24.60" height="24.08" fill="#262626" />
<rect x="249.00" y="1448.48" width="25.20" height="24.08" fill="#843c0c" />
<rect x="197.20" y="1472.56" width="24.70" height="24.08" fill="#00b0f0" />
<rect x="223.10" y="1472.56" width="24.60" height="24.08" fill="#262626" />
<rect x="249.00" y="1472.56" width="25.20" height="24.08" fill="#843c0c" />
<rect x="197.20" y="1496.64" width="24.70" height="24.08" fill="#00b0f0" />
<rect x="223.10" y="1496.64" width="24.60" height="24.08" fill="#262626" />
<rect x="249.00" y="1496.64" width="25.20" height="24.08" fill="#843c0c" />
<rect x="197.20" y="1520.72" width="24.70" height="24.08" fill="#00b0f0" />
<rect x="223.10" y="1520.72" width="24.60" height="24.08" fill="#d9e1f2" />
<rect x="249.00" y="1520.72" width="25.20" height="24.08" fill="#843c0c" />
<rect x="197.20" y="1544.80" width="24.70" height="24.08" fill="#00b0f0" />
<rect x="223.10" y="1544.80" width="24.60" height="24.08" fill="#262626" />
<rect x="249.00" y="1544.80" width="25.20" height="24.08" fill="#843c0c" />
<rect x="197.20" y="1568.88" width="24.70" height="24.08" fill="#00b0f0" />
<rect x="223.10" y="1568.88" width="24.60" height="24.08" fill="#262626" />
<rect x="249.00" y="1568.88" width="25.20" height="24.08" fill="#843c0c" />
<rect x="197.20" y="1592.96" width="24.70" height="24.08" fill="#00b0f0" />
<rect x="223.10" y="1592.96" width="24.60" height="24.08" fill="#262626" />
<rect x="249.00" y="1592.96" width="25.20" height="24.08" fill="#843c0c" />
<rect x="197.20" y="1617.04" width="24.70" height="24.08" fill="#00b0f0" />
<rect x="223.10" y="1617.04" width="24.60" height="24.08" fill="#262626" />
<rect x="249.00" y="1617.04" width="25.20" height="24.08" fill="#843c0c" />
<rect x="197.20" y="1641.12" width="24.70" height="24.08" fill="#00b0f0" />
<rect x="223.10" y="1641.12" width="24.60" height="24.08" fill="#d9e1f2" />
<rect x="249.00" y="1641.12" width="25.20" height="24.08" fill="#843c0c" />
<line x1="197.20" y1="243.98" x2="274.20" y2="243.98" stroke="#fff" stroke-width="1.1" stroke-opacity="0.6"/>
<line x1="197.20" y1="268.06" x2="274.20" y2="268.06" stroke="#fff" stroke-width="1.1" stroke-opacity="0.6"/>
<line x1="197.20" y1="292.14" x2="274.20" y2="292.14" stroke="#fff" stroke-width="1.1" stroke-opacity="0.6"/>
<line x1="197.20" y1="316.22" x2="274.20" y2="316.22" stroke="#fff" stroke-width="1.1" stroke-opacity="0.6"/>
<line x1="197.20" y1="340.30" x2="274.20" y2="340.30" stroke="#fff" stroke-width="1.1" stroke-opacity="0.6"/>
<line x1="197.20" y1="364.38" x2="274.20" y2="364.38" stroke="#fff" stroke-width="1.1" stroke-opacity="0.6"/>
<line x1="197.20" y1="388.46" x2="274.20" y2="388.46" stroke="#fff" stroke-width="1.1" stroke-opacity="0.6"/>
<line x1="197.20" y1="412.54" x2="274.20" y2="412.54" stroke="#fff" stroke-width="1.1" stroke-opacity="0.6"/>
<line x1="197.20" y1="436.62" x2="274.20" y2="436.62" stroke="#fff" stroke-width="1.1" stroke-opacity="0.6"/>
<line x1="197.20" y1="460.70" x2="274.20" y2="460.70" stroke="#fff" stroke-width="1.1" stroke-opacity="0.6"/>
<line x1="197.20" y1="484.78" x2="274.20" y2="484.78" stroke="#fff" stroke-width="1.1" stroke-opacity="0.6"/>
<line x1="197.20" y1="508.86" x2="274.20" y2="508.86" stroke="#fff" stroke-width="1.1" stroke-opacity="0.6"/>
<line x1="197.20" y1="532.94" x2="274.20" y2="532.94" stroke="#fff" stroke-width="1.1" stroke-opacity="0.6"/>
<line x1="197.20" y1="557.02" x2="274.20" y2="557.02" stroke="#fff" stroke-width="1.1" stroke-opacity="0.6"/>
<line x1="197.20" y1="581.10" x2="274.20" y2="581.10" stroke="#fff" stroke-width="1.1" stroke-opacity="0.6"/>
<line x1="197.20" y1="605.18" x2="274.20" y2="605.18" stroke="#fff" stroke-width="1.1" stroke-opacity="0.6"/>
<line x1="197.20" y1="629.26" x2="274.20" y2="629.26" stroke="#fff" stroke-width="1.1" stroke-opacity="0.6"/>
<line x1="197.20" y1="653.34" x2="274.20" y2="653.34" stroke="#fff" stroke-width="1.1" stroke-opacity="0.6"/>
<line x1="197.20" y1="677.42" x2="274.20" y2="677.42" stroke="#fff" stroke-width="1.1" stroke-opacity="0.6"/>
<line x1="197.20" y1="701.50" x2="274.20" y2="701.50" stroke="#fff" stroke-width="1.1" stroke-opacity="0.6"/>
<line x1="197.20" y1="725.58" x2="274.20" y2="725.58" stroke="#fff" stroke-width="1.1" stroke-opacity="0.6"/>
<line x1="197.20" y1="749.66" x2="274.20" y2="749.66" stroke="#fff" stroke-width="1.1" stroke-opacity="0.6"/>
<line x1="197.20" y1="773.74" x2="274.20" y2="773.74" stroke="#fff" stroke-width="1.1" stroke-opacity="0.6"/>
<line x1="197.20" y1="797.82" x2="274.20" y2="797.82" stroke="#fff" stroke-width="1.1" stroke-opacity="0.6"/>
<line x1="197.20" y1="821.90" x2="274.20" y2="821.90" stroke="#fff" stroke-width="1.1" stroke-opacity="0.6"/>
<line x1="197.20" y1="845.98" x2="274.20" y2="845.98" stroke="#fff" stroke-width="1.1" stroke-opacity="0.6"/>
<line x1="197.20" y1="870.06" x2="274.20" y2="870.06" stroke="#fff" stroke-width="1.1" stroke-opacity="0.6"/>
<line x1="197.20" y1="894.14" x2="274.20" y2="894.14" stroke="#fff" stroke-width="1.1" stroke-opacity="0.6"/>
<line x1="197.20" y1="918.22" x2="274.20" y2="918.22" stroke="#fff" stroke-width="1.1" stroke-opacity="0.6"/>
<line x1="197.20" y1="942.30" x2="274.20" y2="942.30" stroke="#fff" stroke-width="1.1" stroke-opacity="0.6"/>
<line x1="197.20" y1="966.38" x2="274.20" y2="966.38" stroke="#fff" stroke-width="1.1" stroke-opacity="0.6"/>
<line x1="197.20" y1="990.46" x2="274.20" y2="990.46" stroke="#fff" stroke-width="1.1" stroke-opacity="0.6"/>
<line x1="197.20" y1="1014.54" x2="274.20" y2="1014.54" stroke="#fff" stroke-width="1.1" stroke-opacity="0.6"/>
<line x1="197.20" y1="1038.62" x2="274.20" y2="1038.62" stroke="#fff" stroke-width="1.1" stroke-opacity="0.6"/>
<line x1="197.20" y1="1062.70" x2="274.20" y2="1062.70" stroke="#fff" stroke-width="1.1" stroke-opacity="0.6"/>
<line x1="197.20" y1="1086.78" x2="274.20" y2="1086.78" stroke="#fff" stroke-width="1.1" stroke-opacity="0.6"/>
<line x1="197.20" y1="1110.86" x2="274.20" y2="1110.86" stroke="#fff" stroke-width="1.1" stroke-opacity="0.6"/>
<line x1="197.20" y1="1134.94" x2="274.20" y2="1134.94" stroke="#fff" stroke-width="1.1" stroke-opacity="0.6"/>
<line x1="197.20" y1="1159.02" x2="274.20" y2="1159.02" stroke="#fff" stroke-width="1.1" stroke-opacity="0.6"/>
<line x1="197.20" y1="1183.10" x2="274.20" y2="1183.10" stroke="#fff" stroke-width="1.1" stroke-opacity="0.6"/>
<line x1="197.20" y1="1207.18" x2="274.20" y2="1207.18" stroke="#fff" stroke-width="1.1" stroke-opacity="0.6"/>
<line x1="197.20" y1="1231.26" x2="274.20" y2="1231.26" stroke="#fff" stroke-width="1.1" stroke-opacity="0.6"/>
<line x1="197.20" y1="1255.34" x2="274.20" y2="1255.34" stroke="#fff" stroke-width="1.1" stroke-opacity="0.6"/>
<line x1="197.20" y1="1279.42" x2="274.20" y2="1279.42" stroke="#fff" stroke-width="1.1" stroke-opacity="0.6"/>
<line x1="197.20" y1="1303.50" x2="274.20" y2="1303.50" stroke="#fff" stroke-width="1.1" stroke-opacity="0.6"/>
<line x1="197.20" y1="1327.58" x2="274.20" y2="1327.58" stroke="#fff" stroke-width="1.1" stroke-opacity="0.6"/>
<line x1="197.20" y1="1351.66" x2="274.20" y2="1351.66" stroke="#fff" stroke-width="1.1" stroke-opacity="0.6"/>
<line x1="197.20" y1="1375.74" x2="274.20" y2="1375.74" stroke="#fff" stroke-width="1.1" stroke-opacity="0.6"/>
<line x1="197.20" y1="1399.82" x2="274.20" y2="1399.82" stroke="#fff" stroke-width="1.1" stroke-opacity="0.6"/>
<line x1="197.20" y1="1423.90" x2="274.20" y2="1423.90" stroke="#fff" stroke-width="1.1" stroke-opacity="0.6"/>
<line x1="197.20" y1="1447.98" x2="274.20" y2="1447.98" stroke="#fff" stroke-width="1.1" stroke-opacity="0.6"/>
<line x1="197.20" y1="1472.06" x2="274.20" y2="1472.06" stroke="#fff" stroke-width="1.1" stroke-opacity="0.6"/>
<line x1="197.20" y1="1496.14" x2="274.20" y2="1496.14" stroke="#fff" stroke-width="1.1" stroke-opacity="0.6"/>
<line x1="197.20" y1="1520.22" x2="274.20" y2="1520.22" stroke="#fff" stroke-width="1.1" stroke-opacity="0.6"/>
<line x1="197.20" y1="1544.30" x2="274.20" y2="1544.30" stroke="#fff" stroke-width="1.1" stroke-opacity="0.6"/>
<line x1="197.20" y1="1568.38" x2="274.20" y2="1568.38" stroke="#fff" stroke-width="1.1" stroke-opacity="0.6"/>
<line x1="197.20" y1="1592.46" x2="274.20" y2="1592.46" stroke="#fff" stroke-width="1.1" stroke-opacity="0.6"/>
<line x1="197.20" y1="1616.54" x2="274.20" y2="1616.54" stroke="#fff" stroke-width="1.1" stroke-opacity="0.6"/>
<line x1="197.20" y1="1640.62" x2="274.20" y2="1640.62" stroke="#fff" stroke-width="1.1" stroke-opacity="0.6"/>
<line x1="283.50" y1="218.00" x2="283.50" y2="1668.00" stroke="#555" stroke-width="1" stroke-dasharray="1.5 2.5"/>
<g>
<circle cx="283.50" cy="228.00" r="3.1" fill="#000" />
<circle cx="283.50" cy="232.20" r="3.1" fill="#000" />
<circle cx="283.50" cy="236.40" r="3.1" fill="#000" />
<circle cx="283.50" cy="252.88" r="3.1" fill="#000" />
<circle cx="283.50" cy="259.68" r="3.1" fill="#000" />
<circle cx="283.50" cy="276.16" r="3.1" fill="#000" />
<circle cx="283.50" cy="280.36" r="3.1" fill="#000" />
<circle cx="283.50" cy="284.56" r="3.1" fill="#000" />
<circle cx="283.50" cy="300.24" r="3.1" fill="#000" />
<circle cx="283.50" cy="304.44" r="3.1" fill="#000" />
<circle cx="283.50" cy="308.64" r="3.1" fill="#000" />
<circle cx="283.50" cy="324.32" r="3.1" fill="#000" />
<circle cx="283.50" cy="328.52" r="3.1" fill="#000" />
<circle cx="283.50" cy="332.72" r="3.1" fill="#000" />
<circle cx="283.50" cy="348.40" r="3.1" fill="#000" />
<circle cx="283.50" cy="352.60" r="3.1" fill="#000" />
<circle cx="283.50" cy="356.80" r="3.1" fill="#000" />
<circle cx="283.50" cy="372.48" r="3.1" fill="#000" />
<circle cx="283.50" cy="376.68" r="3.1" fill="#000" />
<circle cx="283.50" cy="380.88" r="3.1" fill="#000" />
<circle cx="283.50" cy="396.56" r="3.1" fill="#000" />
<circle cx="283.50" cy="400.76" r="3.1" fill="#000" />
<circle cx="283.50" cy="404.96" r="3.1" fill="#000" />
<circle cx="283.50" cy="420.64" r="3.1" fill="#000" />
<circle cx="283.50" cy="424.84" r="3.1" fill="#000" />
<circle cx="283.50" cy="429.04" r="3.1" fill="#000" />
<circle cx="283.50" cy="444.72" r="3.1" fill="#000" />
<circle cx="283.50" cy="448.92" r="3.1" fill="#000" />
<circle cx="283.50" cy="453.12" r="3.1" fill="#000" />
<circle cx="283.50" cy="468.80" r="3.1" fill="#000" />
<circle cx="283.50" cy="473.00" r="3.1" fill="#000" />
<circle cx="283.50" cy="477.20" r="3.1" fill="#000" />
<circle cx="283.50" cy="492.88" r="3.1" fill="#000" />
<circle cx="283.50" cy="497.08" r="3.1" fill="#000" />
<circle cx="283.50" cy="501.28" r="3.1" fill="#000" />
<circle cx="283.50" cy="516.96" r="3.1" fill="#000" />
<circle cx="283.50" cy="521.16" r="3.1" fill="#000" />
<circle cx="283.50" cy="525.36" r="3.1" fill="#000" />
<circle cx="283.50" cy="541.04" r="3.1" fill="#000" />
<circle cx="283.50" cy="545.24" r="3.1" fill="#000" />
<circle cx="283.50" cy="549.44" r="3.1" fill="#000" />
<rect x="284.6" y="561.4" width="20.0" height="16.1" fill="#fff" stroke="#000" stroke-width="2.2"/>
<line x1="292.40" y1="569.32" x2="319.50" y2="569.32" stroke="#9a9a9a" stroke-width="1" />
<line x1="292.40" y1="564.82" x2="292.40" y2="573.82" stroke="#9a9a9a" stroke-width="1" />
<line x1="319.50" y1="564.82" x2="319.50" y2="573.82" stroke="#9a9a9a" stroke-width="1" />
<circle cx="283.50" cy="565.12" r="3.1" fill="#000" />
<circle cx="283.50" cy="569.32" r="3.1" fill="#000" />
<circle cx="283.50" cy="573.52" r="3.1" fill="#000" />
<circle cx="338.10" cy="565.92" r="3.1" fill="#000" />
<circle cx="338.10" cy="572.72" r="3.1" fill="#000" />
<rect x="284.6" y="585.5" width="34.4" height="16.1" fill="#fff" stroke="#000" stroke-width="2.2"/>
<line x1="283.50" y1="593.40" x2="356.40" y2="593.40" stroke="#9a9a9a" stroke-width="1" />
<line x1="283.50" y1="588.90" x2="283.50" y2="597.90" stroke="#9a9a9a" stroke-width="1" />
<line x1="356.40" y1="588.90" x2="356.40" y2="597.90" stroke="#9a9a9a" stroke-width="1" />
<circle cx="283.50" cy="590.00" r="3.1" fill="#000" />
<circle cx="283.50" cy="596.80" r="3.1" fill="#000" />
<circle cx="392.70" cy="593.40" r="3.1" fill="#000" />
<rect x="284.6" y="609.6" width="52.0" height="16.1" fill="#fff" stroke="#000" stroke-width="2.2"/>
<line x1="306.70" y1="617.48" x2="369.90" y2="617.48" stroke="#9a9a9a" stroke-width="1" />
<line x1="306.70" y1="612.98" x2="306.70" y2="621.98" stroke="#9a9a9a" stroke-width="1" />
<line x1="369.90" y1="612.98" x2="369.90" y2="621.98" stroke="#9a9a9a" stroke-width="1" />
<circle cx="283.50" cy="614.08" r="3.1" fill="#000" />
<circle cx="283.50" cy="620.88" r="3.1" fill="#000" />
<circle cx="392.70" cy="614.08" r="3.1" fill="#000" />
<circle cx="392.70" cy="620.88" r="3.1" fill="#000" />
<rect x="284.6" y="633.7" width="52.0" height="16.1" fill="#fff" stroke="#000" stroke-width="2.2"/>
<line x1="283.50" y1="641.56" x2="392.70" y2="641.56" stroke="#9a9a9a" stroke-width="1" />
<line x1="283.50" y1="637.06" x2="283.50" y2="646.06" stroke="#9a9a9a" stroke-width="1" />
<line x1="392.70" y1="637.06" x2="392.70" y2="646.06" stroke="#9a9a9a" stroke-width="1" />
<circle cx="283.50" cy="638.16" r="3.1" fill="#000" />
<circle cx="283.50" cy="644.96" r="3.1" fill="#000" />
<circle cx="392.70" cy="641.56" r="3.1" fill="#000" />
<rect x="284.6" y="657.7" width="52.0" height="16.1" fill="#fff" stroke="#000" stroke-width="2.2"/>
<line x1="283.50" y1="665.64" x2="392.70" y2="665.64" stroke="#9a9a9a" stroke-width="1" />
<line x1="283.50" y1="661.14" x2="283.50" y2="670.14" stroke="#9a9a9a" stroke-width="1" />
<line x1="392.70" y1="661.14" x2="392.70" y2="670.14" stroke="#9a9a9a" stroke-width="1" />
<circle cx="283.50" cy="662.24" r="3.1" fill="#000" />
<circle cx="283.50" cy="669.04" r="3.1" fill="#000" />
<circle cx="392.70" cy="665.64" r="3.1" fill="#000" />
<rect x="284.6" y="681.8" width="85.7" height="16.1" fill="#fff" stroke="#000" stroke-width="2.2"/>
<line x1="349.00" y1="689.72" x2="392.70" y2="689.72" stroke="#9a9a9a" stroke-width="1" />
<line x1="349.00" y1="685.22" x2="349.00" y2="694.22" stroke="#9a9a9a" stroke-width="1" />
<line x1="392.70" y1="685.22" x2="392.70" y2="694.22" stroke="#9a9a9a" stroke-width="1" />
<circle cx="283.50" cy="689.72" r="3.1" fill="#000" />
<circle cx="392.70" cy="685.52" r="3.1" fill="#000" />
<circle cx="392.70" cy="689.72" r="3.1" fill="#000" />
<circle cx="392.70" cy="693.92" r="3.1" fill="#000" />
<rect x="284.6" y="705.9" width="85.7" height="16.1" fill="#fff" stroke="#000" stroke-width="2.2"/>
<line x1="338.00" y1="713.80" x2="403.50" y2="713.80" stroke="#9a9a9a" stroke-width="1" />
<line x1="338.00" y1="709.30" x2="338.00" y2="718.30" stroke="#9a9a9a" stroke-width="1" />
<line x1="403.50" y1="709.30" x2="403.50" y2="718.30" stroke="#9a9a9a" stroke-width="1" />
<circle cx="283.50" cy="713.80" r="3.1" fill="#000" />
<circle cx="338.10" cy="710.40" r="3.1" fill="#000" />
<circle cx="338.10" cy="717.20" r="3.1" fill="#000" />
<circle cx="447.30" cy="710.40" r="3.1" fill="#000" />
<circle cx="447.30" cy="717.20" r="3.1" fill="#000" />
<rect x="284.6" y="730.0" width="92.9" height="16.1" fill="#fff" stroke="#000" stroke-width="2.2"/>
<line x1="365.00" y1="737.88" x2="392.70" y2="737.88" stroke="#9a9a9a" stroke-width="1" />
<line x1="365.00" y1="733.38" x2="365.00" y2="742.38" stroke="#9a9a9a" stroke-width="1" />
<line x1="392.70" y1="733.38" x2="392.70" y2="742.38" stroke="#9a9a9a" stroke-width="1" />
<circle cx="283.50" cy="737.88" r="3.1" fill="#000" />
<circle cx="338.10" cy="737.88" r="3.1" fill="#000" />
<circle cx="392.70" cy="733.68" r="3.1" fill="#000" />
<circle cx="392.70" cy="737.88" r="3.1" fill="#000" />
<circle cx="392.70" cy="742.08" r="3.1" fill="#000" />
<rect x="284.6" y="754.1" width="107.4" height="16.1" fill="#fff" stroke="#000" stroke-width="2.2"/>
<circle cx="392.70" cy="757.76" r="3.1" fill="#000" />
<circle cx="392.70" cy="761.96" r="3.1" fill="#000" />
<circle cx="392.70" cy="766.16" r="3.1" fill="#000" />
<rect x="284.6" y="778.1" width="107.4" height="16.1" fill="#fff" stroke="#000" stroke-width="2.2"/>
<circle cx="392.70" cy="781.84" r="3.1" fill="#000" />
<circle cx="392.70" cy="786.04" r="3.1" fill="#000" />
<circle cx="392.70" cy="790.24" r="3.1" fill="#000" />
<rect x="284.6" y="802.2" width="107.4" height="16.1" fill="#fff" stroke="#000" stroke-width="2.2"/>
<circle cx="392.70" cy="805.92" r="3.1" fill="#000" />
<circle cx="392.70" cy="810.12" r="3.1" fill="#000" />
<circle cx="392.70" cy="814.32" r="3.1" fill="#000" />
<rect x="284.6" y="826.3" width="107.4" height="16.1" fill="#fff" stroke="#000" stroke-width="2.2"/>
<circle cx="392.70" cy="830.00" r="3.1" fill="#000" />
<circle cx="392.70" cy="834.20" r="3.1" fill="#000" />
<circle cx="392.70" cy="838.40" r="3.1" fill="#000" />
<rect x="284.6" y="850.4" width="107.4" height="16.1" fill="#fff" stroke="#000" stroke-width="2.2"/>
<circle cx="392.70" cy="854.08" r="3.1" fill="#000" />
<circle cx="392.70" cy="858.28" r="3.1" fill="#000" />
<circle cx="392.70" cy="862.48" r="3.1" fill="#000" />
<rect x="284.6" y="874.5" width="107.4" height="16.1" fill="#fff" stroke="#000" stroke-width="2.2"/>
<circle cx="392.70" cy="878.16" r="3.1" fill="#000" />
<circle cx="392.70" cy="882.36" r="3.1" fill="#000" />
<circle cx="392.70" cy="886.56" r="3.1" fill="#000" />
<rect x="284.6" y="898.5" width="107.4" height="16.1" fill="#fff" stroke="#000" stroke-width="2.2"/>
<circle cx="392.70" cy="902.24" r="3.1" fill="#000" />
<circle cx="392.70" cy="906.44" r="3.1" fill="#000" />
<circle cx="392.70" cy="910.64" r="3.1" fill="#000" />
<rect x="284.6" y="922.6" width="125.5" height="16.1" fill="#fff" stroke="#000" stroke-width="2.2"/>
<line x1="392.70" y1="930.52" x2="429.30" y2="930.52" stroke="#9a9a9a" stroke-width="1" />
<line x1="392.70" y1="926.02" x2="392.70" y2="935.02" stroke="#9a9a9a" stroke-width="1" />
<line x1="429.30" y1="926.02" x2="429.30" y2="935.02" stroke="#9a9a9a" stroke-width="1" />
<circle cx="392.70" cy="927.12" r="3.1" fill="#000" />
<circle cx="392.70" cy="933.92" r="3.1" fill="#000" />
<circle cx="447.30" cy="930.52" r="3.1" fill="#000" />
<rect x="284.6" y="946.7" width="129.0" height="16.1" fill="#fff" stroke="#000" stroke-width="2.2"/>
<line x1="401.00" y1="954.60" x2="427.70" y2="954.60" stroke="#9a9a9a" stroke-width="1" />
<line x1="401.00" y1="950.10" x2="401.00" y2="959.10" stroke="#9a9a9a" stroke-width="1" />
<line x1="427.70" y1="950.10" x2="427.70" y2="959.10" stroke="#9a9a9a" stroke-width="1" />
<circle cx="392.70" cy="950.40" r="3.1" fill="#000" />
<circle cx="392.70" cy="954.60" r="3.1" fill="#000" />
<circle cx="392.70" cy="958.80" r="3.1" fill="#000" />
<circle cx="447.30" cy="951.20" r="3.1" fill="#000" />
<circle cx="447.30" cy="958.00" r="3.1" fill="#000" />
<rect x="284.6" y="970.8" width="129.0" height="16.1" fill="#fff" stroke="#000" stroke-width="2.2"/>
<line x1="401.00" y1="978.68" x2="427.70" y2="978.68" stroke="#9a9a9a" stroke-width="1" />
<line x1="401.00" y1="974.18" x2="401.00" y2="983.18" stroke="#9a9a9a" stroke-width="1" />
<line x1="427.70" y1="974.18" x2="427.70" y2="983.18" stroke="#9a9a9a" stroke-width="1" />
<circle cx="392.70" cy="974.48" r="3.1" fill="#000" />
<circle cx="392.70" cy="978.68" r="3.1" fill="#000" />
<circle cx="392.70" cy="982.88" r="3.1" fill="#000" />
<circle cx="447.30" cy="975.28" r="3.1" fill="#000" />
<circle cx="447.30" cy="982.08" r="3.1" fill="#000" />
<rect x="284.6" y="994.9" width="128.9" height="16.1" fill="#fff" stroke="#000" stroke-width="2.2"/>
<line x1="392.70" y1="1002.76" x2="437.00" y2="1002.76" stroke="#9a9a9a" stroke-width="1" />
<line x1="392.70" y1="998.26" x2="392.70" y2="1007.26" stroke="#9a9a9a" stroke-width="1" />
<line x1="437.00" y1="998.26" x2="437.00" y2="1007.26" stroke="#9a9a9a" stroke-width="1" />
<circle cx="392.70" cy="998.56" r="3.1" fill="#000" />
<circle cx="392.70" cy="1002.76" r="3.1" fill="#000" />
<circle cx="392.70" cy="1006.96" r="3.1" fill="#000" />
<circle cx="501.90" cy="1002.76" r="3.1" fill="#000" />
<rect x="284.6" y="1018.9" width="128.9" height="16.1" fill="#fff" stroke="#000" stroke-width="2.2"/>
<line x1="392.70" y1="1026.84" x2="437.00" y2="1026.84" stroke="#9a9a9a" stroke-width="1" />
<line x1="392.70" y1="1022.34" x2="392.70" y2="1031.34" stroke="#9a9a9a" stroke-width="1" />
<line x1="437.00" y1="1022.34" x2="437.00" y2="1031.34" stroke="#9a9a9a" stroke-width="1" />
<circle cx="392.70" cy="1022.64" r="3.1" fill="#000" />
<circle cx="392.70" cy="1026.84" r="3.1" fill="#000" />
<circle cx="392.70" cy="1031.04" r="3.1" fill="#000" />
<circle cx="501.90" cy="1026.84" r="3.1" fill="#000" />
<rect x="284.6" y="1043.0" width="128.9" height="16.1" fill="#fff" stroke="#000" stroke-width="2.2"/>
<line x1="392.70" y1="1050.92" x2="437.00" y2="1050.92" stroke="#9a9a9a" stroke-width="1" />
<line x1="392.70" y1="1046.42" x2="392.70" y2="1055.42" stroke="#9a9a9a" stroke-width="1" />
<line x1="437.00" y1="1046.42" x2="437.00" y2="1055.42" stroke="#9a9a9a" stroke-width="1" />
<circle cx="392.70" cy="1046.72" r="3.1" fill="#000" />
<circle cx="392.70" cy="1050.92" r="3.1" fill="#000" />
<circle cx="392.70" cy="1055.12" r="3.1" fill="#000" />
<circle cx="501.90" cy="1050.92" r="3.1" fill="#000" />
<rect x="284.6" y="1067.1" width="134.3" height="16.1" fill="#fff" stroke="#000" stroke-width="2.2"/>
<line x1="392.70" y1="1075.00" x2="447.00" y2="1075.00" stroke="#9a9a9a" stroke-width="1" />
<line x1="392.70" y1="1070.50" x2="392.70" y2="1079.50" stroke="#9a9a9a" stroke-width="1" />
<line x1="447.00" y1="1070.50" x2="447.00" y2="1079.50" stroke="#9a9a9a" stroke-width="1" />
<circle cx="392.70" cy="1070.80" r="3.1" fill="#000" />
<circle cx="392.70" cy="1075.00" r="3.1" fill="#000" />
<circle cx="392.70" cy="1079.20" r="3.1" fill="#000" />
<circle cx="501.90" cy="1075.00" r="3.1" fill="#000" />
<rect x="284.6" y="1091.2" width="134.3" height="16.1" fill="#fff" stroke="#000" stroke-width="2.2"/>
<line x1="392.70" y1="1099.08" x2="447.00" y2="1099.08" stroke="#9a9a9a" stroke-width="1" />
<line x1="392.70" y1="1094.58" x2="392.70" y2="1103.58" stroke="#9a9a9a" stroke-width="1" />
<line x1="447.00" y1="1094.58" x2="447.00" y2="1103.58" stroke="#9a9a9a" stroke-width="1" />
<circle cx="392.70" cy="1094.88" r="3.1" fill="#000" />
<circle cx="392.70" cy="1099.08" r="3.1" fill="#000" />
<circle cx="392.70" cy="1103.28" r="3.1" fill="#000" />
<circle cx="501.90" cy="1099.08" r="3.1" fill="#000" />
<rect x="284.6" y="1115.3" width="134.3" height="16.1" fill="#fff" stroke="#000" stroke-width="2.2"/>
<line x1="392.70" y1="1123.16" x2="447.30" y2="1123.16" stroke="#9a9a9a" stroke-width="1" />
<line x1="392.70" y1="1118.66" x2="392.70" y2="1127.66" stroke="#9a9a9a" stroke-width="1" />
<line x1="447.30" y1="1118.66" x2="447.30" y2="1127.66" stroke="#9a9a9a" stroke-width="1" />
<circle cx="392.70" cy="1123.16" r="3.1" fill="#000" />
<circle cx="447.30" cy="1123.16" r="3.1" fill="#000" />
<rect x="284.6" y="1139.3" width="134.3" height="16.1" fill="#fff" stroke="#000" stroke-width="2.2"/>
<line x1="392.70" y1="1147.24" x2="447.00" y2="1147.24" stroke="#9a9a9a" stroke-width="1" />
<line x1="392.70" y1="1142.74" x2="392.70" y2="1151.74" stroke="#9a9a9a" stroke-width="1" />
<line x1="447.00" y1="1142.74" x2="447.00" y2="1151.74" stroke="#9a9a9a" stroke-width="1" />
<circle cx="392.70" cy="1143.04" r="3.1" fill="#000" />
<circle cx="392.70" cy="1147.24" r="3.1" fill="#000" />
<circle cx="392.70" cy="1151.44" r="3.1" fill="#000" />
<circle cx="501.90" cy="1147.24" r="3.1" fill="#000" />
<rect x="284.6" y="1163.4" width="134.3" height="16.1" fill="#fff" stroke="#000" stroke-width="2.2"/>
<line x1="392.70" y1="1171.32" x2="447.30" y2="1171.32" stroke="#9a9a9a" stroke-width="1" />
<line x1="392.70" y1="1166.82" x2="392.70" y2="1175.82" stroke="#9a9a9a" stroke-width="1" />
<line x1="447.30" y1="1166.82" x2="447.30" y2="1175.82" stroke="#9a9a9a" stroke-width="1" />
<circle cx="392.70" cy="1171.32" r="3.1" fill="#000" />
<circle cx="447.30" cy="1171.32" r="3.1" fill="#000" />
<rect x="284.6" y="1187.5" width="150.5" height="16.1" fill="#fff" stroke="#000" stroke-width="2.2"/>
<line x1="409.50" y1="1195.40" x2="463.90" y2="1195.40" stroke="#9a9a9a" stroke-width="1" />
<line x1="409.50" y1="1190.90" x2="409.50" y2="1199.90" stroke="#9a9a9a" stroke-width="1" />
<line x1="463.90" y1="1190.90" x2="463.90" y2="1199.90" stroke="#9a9a9a" stroke-width="1" />
<circle cx="392.70" cy="1191.20" r="3.1" fill="#000" />
<circle cx="392.70" cy="1195.40" r="3.1" fill="#000" />
<circle cx="392.70" cy="1199.60" r="3.1" fill="#000" />
<circle cx="501.90" cy="1192.00" r="3.1" fill="#000" />
<circle cx="501.90" cy="1198.80" r="3.1" fill="#000" />
<rect x="284.6" y="1211.6" width="161.8" height="16.1" fill="#fff" stroke="#000" stroke-width="2.2"/>
<line x1="412.20" y1="1219.48" x2="482.50" y2="1219.48" stroke="#9a9a9a" stroke-width="1" />
<line x1="412.20" y1="1214.98" x2="412.20" y2="1223.98" stroke="#9a9a9a" stroke-width="1" />
<line x1="482.50" y1="1214.98" x2="482.50" y2="1223.98" stroke="#9a9a9a" stroke-width="1" />
<circle cx="392.70" cy="1215.28" r="3.1" fill="#000" />
<circle cx="392.70" cy="1219.48" r="3.1" fill="#000" />
<circle cx="392.70" cy="1223.68" r="3.1" fill="#000" />
<circle cx="501.90" cy="1219.48" r="3.1" fill="#000" />
<circle cx="556.50" cy="1219.48" r="3.1" fill="#000" />
<rect x="284.6" y="1235.7" width="161.8" height="16.1" fill="#fff" stroke="#000" stroke-width="2.2"/>
<line x1="416.40" y1="1243.56" x2="478.90" y2="1243.56" stroke="#9a9a9a" stroke-width="1" />
<line x1="416.40" y1="1239.06" x2="416.40" y2="1248.06" stroke="#9a9a9a" stroke-width="1" />
<line x1="478.90" y1="1239.06" x2="478.90" y2="1248.06" stroke="#9a9a9a" stroke-width="1" />
<circle cx="392.70" cy="1240.16" r="3.1" fill="#000" />
<circle cx="392.70" cy="1246.96" r="3.1" fill="#000" />
<circle cx="501.90" cy="1240.16" r="3.1" fill="#000" />
<circle cx="501.90" cy="1246.96" r="3.1" fill="#000" />
<rect x="284.6" y="1259.7" width="162.7" height="16.1" fill="#fff" stroke="#000" stroke-width="2.2"/>
<line x1="433.00" y1="1267.64" x2="461.80" y2="1267.64" stroke="#9a9a9a" stroke-width="1" />
<line x1="433.00" y1="1263.14" x2="433.00" y2="1272.14" stroke="#9a9a9a" stroke-width="1" />
<line x1="461.80" y1="1263.14" x2="461.80" y2="1272.14" stroke="#9a9a9a" stroke-width="1" />
<circle cx="392.70" cy="1267.64" r="3.1" fill="#000" />
<circle cx="447.30" cy="1263.44" r="3.1" fill="#000" />
<circle cx="447.30" cy="1267.64" r="3.1" fill="#000" />
<circle cx="447.30" cy="1271.84" r="3.1" fill="#000" />
<circle cx="501.90" cy="1267.64" r="3.1" fill="#000" />
<rect x="284.6" y="1283.8" width="172.7" height="16.1" fill="#fff" stroke="#000" stroke-width="2.2"/>
<line x1="431.50" y1="1291.72" x2="485.20" y2="1291.72" stroke="#9a9a9a" stroke-width="1" />
<line x1="431.50" y1="1287.22" x2="431.50" y2="1296.22" stroke="#9a9a9a" stroke-width="1" />
<line x1="485.20" y1="1287.22" x2="485.20" y2="1296.22" stroke="#9a9a9a" stroke-width="1" />
<circle cx="392.70" cy="1288.32" r="3.1" fill="#000" />
<circle cx="392.70" cy="1295.12" r="3.1" fill="#000" />
<circle cx="501.90" cy="1287.52" r="3.1" fill="#000" />
<circle cx="501.90" cy="1291.72" r="3.1" fill="#000" />
<circle cx="501.90" cy="1295.92" r="3.1" fill="#000" />
<rect x="284.6" y="1307.9" width="183.4" height="16.1" fill="#fff" stroke="#000" stroke-width="2.2"/>
<line x1="436.90" y1="1315.80" x2="501.90" y2="1315.80" stroke="#9a9a9a" stroke-width="1" />
<line x1="436.90" y1="1311.30" x2="436.90" y2="1320.30" stroke="#9a9a9a" stroke-width="1" />
<line x1="501.90" y1="1311.30" x2="501.90" y2="1320.30" stroke="#9a9a9a" stroke-width="1" />
<circle cx="392.70" cy="1312.40" r="3.1" fill="#000" />
<circle cx="392.70" cy="1319.20" r="3.1" fill="#000" />
<circle cx="501.90" cy="1312.40" r="3.1" fill="#000" />
<circle cx="501.90" cy="1319.20" r="3.1" fill="#000" />
<circle cx="556.50" cy="1315.80" r="3.1" fill="#000" />
<rect x="284.6" y="1332.0" width="194.8" height="16.1" fill="#fff" stroke="#000" stroke-width="2.2"/>
<line x1="443.40" y1="1339.88" x2="517.20" y2="1339.88" stroke="#9a9a9a" stroke-width="1" />
<line x1="443.40" y1="1335.38" x2="443.40" y2="1344.38" stroke="#9a9a9a" stroke-width="1" />
<line x1="517.20" y1="1335.38" x2="517.20" y2="1344.38" stroke="#9a9a9a" stroke-width="1" />
<circle cx="392.70" cy="1339.88" r="3.1" fill="#000" />
<circle cx="447.30" cy="1336.48" r="3.1" fill="#000" />
<circle cx="447.30" cy="1343.28" r="3.1" fill="#000" />
<circle cx="501.90" cy="1339.88" r="3.1" fill="#000" />
<circle cx="611.10" cy="1339.88" r="3.1" fill="#000" />
<rect x="284.6" y="1356.1" width="194.8" height="16.1" fill="#fff" stroke="#000" stroke-width="2.2"/>
<line x1="458.50" y1="1363.96" x2="501.90" y2="1363.96" stroke="#9a9a9a" stroke-width="1" />
<line x1="458.50" y1="1359.46" x2="458.50" y2="1368.46" stroke="#9a9a9a" stroke-width="1" />
<line x1="501.90" y1="1359.46" x2="501.90" y2="1368.46" stroke="#9a9a9a" stroke-width="1" />
<circle cx="392.70" cy="1363.96" r="3.1" fill="#000" />
<circle cx="501.90" cy="1359.76" r="3.1" fill="#000" />
<circle cx="501.90" cy="1363.96" r="3.1" fill="#000" />
<circle cx="501.90" cy="1368.16" r="3.1" fill="#000" />
<rect x="284.6" y="1380.1" width="202.7" height="16.1" fill="#fff" stroke="#000" stroke-width="2.2"/>
<line x1="474.70" y1="1388.04" x2="501.90" y2="1388.04" stroke="#9a9a9a" stroke-width="1" />
<line x1="474.70" y1="1383.54" x2="474.70" y2="1392.54" stroke="#9a9a9a" stroke-width="1" />
<line x1="501.90" y1="1383.54" x2="501.90" y2="1392.54" stroke="#9a9a9a" stroke-width="1" />
<circle cx="447.30" cy="1388.04" r="3.1" fill="#000" />
<circle cx="501.90" cy="1383.84" r="3.1" fill="#000" />
<circle cx="501.90" cy="1388.04" r="3.1" fill="#000" />
<circle cx="501.90" cy="1392.24" r="3.1" fill="#000" />
<rect x="284.6" y="1404.2" width="216.8" height="16.1" fill="#fff" stroke="#000" stroke-width="2.2"/>
<line x1="479.80" y1="1412.12" x2="524.80" y2="1412.12" stroke="#9a9a9a" stroke-width="1" />
<line x1="479.80" y1="1407.62" x2="479.80" y2="1416.62" stroke="#9a9a9a" stroke-width="1" />
<line x1="524.80" y1="1407.62" x2="524.80" y2="1416.62" stroke="#9a9a9a" stroke-width="1" />
<circle cx="447.30" cy="1412.12" r="3.1" fill="#000" />
<circle cx="501.90" cy="1408.72" r="3.1" fill="#000" />
<circle cx="501.90" cy="1415.52" r="3.1" fill="#000" />
<circle cx="556.50" cy="1412.12" r="3.1" fill="#000" />
<rect x="284.6" y="1428.3" width="216.8" height="16.1" fill="#fff" stroke="#000" stroke-width="2.2"/>
<circle cx="501.90" cy="1432.00" r="3.1" fill="#000" />
<circle cx="501.90" cy="1436.20" r="3.1" fill="#000" />
<circle cx="501.90" cy="1440.40" r="3.1" fill="#000" />
<rect x="284.6" y="1452.4" width="216.8" height="16.1" fill="#fff" stroke="#000" stroke-width="2.2"/>
<circle cx="501.90" cy="1460.28" r="3.1" fill="#000" />
<rect x="284.6" y="1476.5" width="225.8" height="16.1" fill="#fff" stroke="#000" stroke-width="2.2"/>
<line x1="474.70" y1="1484.36" x2="546.70" y2="1484.36" stroke="#9a9a9a" stroke-width="1" />
<line x1="474.70" y1="1479.86" x2="474.70" y2="1488.86" stroke="#9a9a9a" stroke-width="1" />
<line x1="546.70" y1="1479.86" x2="546.70" y2="1488.86" stroke="#9a9a9a" stroke-width="1" />
<circle cx="392.70" cy="1484.36" r="3.1" fill="#000" />
<circle cx="447.30" cy="1484.36" r="3.1" fill="#000" />
<circle cx="501.90" cy="1480.96" r="3.1" fill="#000" />
<circle cx="501.90" cy="1487.76" r="3.1" fill="#000" />
<circle cx="611.10" cy="1480.96" r="3.1" fill="#000" />
<circle cx="611.10" cy="1487.76" r="3.1" fill="#000" />
<rect x="284.6" y="1500.5" width="238.4" height="16.1" fill="#fff" stroke="#000" stroke-width="2.2"/>
<line x1="483.40" y1="1508.44" x2="564.90" y2="1508.44" stroke="#9a9a9a" stroke-width="1" />
<line x1="483.40" y1="1503.94" x2="483.40" y2="1512.94" stroke="#9a9a9a" stroke-width="1" />
<line x1="564.90" y1="1503.94" x2="564.90" y2="1512.94" stroke="#9a9a9a" stroke-width="1" />
<circle cx="392.70" cy="1508.44" r="3.1" fill="#000" />
<circle cx="501.90" cy="1505.04" r="3.1" fill="#000" />
<circle cx="501.90" cy="1511.84" r="3.1" fill="#000" />
<circle cx="611.10" cy="1505.04" r="3.1" fill="#000" />
<circle cx="611.10" cy="1511.84" r="3.1" fill="#000" />
<rect x="284.6" y="1524.6" width="243.4" height="16.1" fill="#fff" stroke="#000" stroke-width="2.2"/>
<line x1="501.90" y1="1532.52" x2="556.30" y2="1532.52" stroke="#9a9a9a" stroke-width="1" />
<line x1="501.90" y1="1528.02" x2="501.90" y2="1537.02" stroke="#9a9a9a" stroke-width="1" />
<line x1="556.30" y1="1528.02" x2="556.30" y2="1537.02" stroke="#9a9a9a" stroke-width="1" />
<circle cx="501.90" cy="1528.32" r="3.1" fill="#000" />
<circle cx="501.90" cy="1532.52" r="3.1" fill="#000" />
<circle cx="501.90" cy="1536.72" r="3.1" fill="#000" />
<circle cx="611.10" cy="1532.52" r="3.1" fill="#000" />
<rect x="284.6" y="1548.7" width="257.3" height="16.1" fill="#fff" stroke="#000" stroke-width="2.2"/>
<line x1="516.70" y1="1556.60" x2="569.40" y2="1556.60" stroke="#9a9a9a" stroke-width="1" />
<line x1="516.70" y1="1552.10" x2="516.70" y2="1561.10" stroke="#9a9a9a" stroke-width="1" />
<line x1="569.40" y1="1552.10" x2="569.40" y2="1561.10" stroke="#9a9a9a" stroke-width="1" />
<circle cx="501.90" cy="1553.20" r="3.1" fill="#000" />
<circle cx="501.90" cy="1560.00" r="3.1" fill="#000" />
<circle cx="556.50" cy="1556.60" r="3.1" fill="#000" />
<circle cx="611.10" cy="1556.60" r="3.1" fill="#000" />
<rect x="284.6" y="1572.8" width="260.0" height="16.1" fill="#fff" stroke="#000" stroke-width="2.2"/>
<line x1="501.90" y1="1580.68" x2="590.00" y2="1580.68" stroke="#9a9a9a" stroke-width="1" />
<line x1="501.90" y1="1576.18" x2="501.90" y2="1585.18" stroke="#9a9a9a" stroke-width="1" />
<line x1="590.00" y1="1576.18" x2="590.00" y2="1585.18" stroke="#9a9a9a" stroke-width="1" />
<circle cx="392.70" cy="1580.68" r="3.1" fill="#000" />
<circle cx="501.90" cy="1580.68" r="3.1" fill="#000" />
<circle cx="611.10" cy="1576.48" r="3.1" fill="#000" />
<circle cx="611.10" cy="1580.68" r="3.1" fill="#000" />
<circle cx="611.10" cy="1584.88" r="3.1" fill="#000" />
<rect x="284.6" y="1596.9" width="281.6" height="16.1" fill="#fff" stroke="#000" stroke-width="2.2"/>
<line x1="541.30" y1="1604.76" x2="595.00" y2="1604.76" stroke="#9a9a9a" stroke-width="1" />
<line x1="541.30" y1="1600.26" x2="541.30" y2="1609.26" stroke="#9a9a9a" stroke-width="1" />
<line x1="595.00" y1="1600.26" x2="595.00" y2="1609.26" stroke="#9a9a9a" stroke-width="1" />
<circle cx="501.90" cy="1601.36" r="3.1" fill="#000" />
<circle cx="501.90" cy="1608.16" r="3.1" fill="#000" />
<circle cx="611.10" cy="1600.56" r="3.1" fill="#000" />
<circle cx="611.10" cy="1604.76" r="3.1" fill="#000" />
<circle cx="611.10" cy="1608.96" r="3.1" fill="#000" />
<rect x="284.6" y="1620.9" width="298.7" height="16.1" fill="#fff" stroke="#000" stroke-width="2.2"/>
<line x1="556.30" y1="1628.84" x2="611.10" y2="1628.84" stroke="#9a9a9a" stroke-width="1" />
<line x1="556.30" y1="1624.34" x2="556.30" y2="1633.34" stroke="#9a9a9a" stroke-width="1" />
<line x1="611.10" y1="1624.34" x2="611.10" y2="1633.34" stroke="#9a9a9a" stroke-width="1" />
<circle cx="501.90" cy="1628.84" r="3.1" fill="#000" />
<circle cx="611.10" cy="1624.64" r="3.1" fill="#000" />
<circle cx="611.10" cy="1628.84" r="3.1" fill="#000" />
<circle cx="611.10" cy="1633.04" r="3.1" fill="#000" />
<rect x="284.6" y="1645.0" width="325.7" height="16.1" fill="#fff" stroke="#000" stroke-width="2.2"/>
<circle cx="611.10" cy="1648.72" r="3.1" fill="#000" />
<circle cx="611.10" cy="1652.92" r="3.1" fill="#000" />
<circle cx="611.10" cy="1657.12" r="3.1" fill="#000" />
</g>
<text x="718.2" y="75.9" font-size="80" font-weight="bold">b</text>
<text x="900.0" y="175.5" font-size="37" font-weight="bold" text-anchor="middle" textLength="288.4" lengthAdjust="spacingAndGlyphs">AR Interpretation</text>
<path d="M900.5,398.5 L900.50,210.10 A188.4,188.4 0 1 1 748.08,509.24 Z" fill="#021791" stroke="#fff" stroke-width="0.6" stroke-opacity="0.45" stroke-linejoin="round"/>
<path d="M900.5,398.5 L748.08,509.24 A188.4,188.4 0 0 1 728.39,475.13 Z" fill="#ff2a00" stroke="#fff" stroke-width="0.6" stroke-opacity="0.45" stroke-linejoin="round"/>
<path d="M900.5,398.5 L728.39,475.13 A188.4,188.4 0 0 1 712.10,398.50 Z" fill="#ff9600" stroke="#fff" stroke-width="0.6" stroke-opacity="0.45" stroke-linejoin="round"/>
<path d="M900.5,398.5 L712.10,398.50 A188.4,188.4 0 0 1 900.50,210.10 Z" fill="#fc7f75" stroke="#fff" stroke-width="0.6" stroke-opacity="0.45" stroke-linejoin="round"/>
<text x="810.5" y="331.6" font-size="34" font-weight="bold" text-anchor="middle" fill="#fff" textLength="63.3" lengthAdjust="spacingAndGlyphs">25%</text>
<text x="986.1" y="429.5" font-size="34" font-weight="bold" text-anchor="middle" fill="#fff" textLength="63.3" lengthAdjust="spacingAndGlyphs">65%</text>
<text x="730.5" y="462.5" font-size="32" font-weight="bold" fill="#fff" textLength="83.5" lengthAdjust="spacingAndGlyphs" transform="rotate(-25 730.5 462.5)">6.66%</text>
<text x="752.5" y="499.5" font-size="32" font-weight="bold" fill="#fff" textLength="83.5" lengthAdjust="spacingAndGlyphs" transform="rotate(-32 752.5 499.5)">3.33%</text>
<rect x="639.10" y="606.10" width="40.20" height="20.80" fill="#021791" />
<text x="702.7" y="626.9" font-size="30.2">High AR Expression (&gt;50% cells)</text>
<rect x="639.10" y="641.90" width="40.20" height="20.80" fill="#ff2a00" />
<text x="702.7" y="662.7" font-size="30.2">Low AR Expression (10-50% cells)</text>
<rect x="639.10" y="681.10" width="40.20" height="20.80" fill="#ff9600" />
<text x="702.7" y="701.9" font-size="30.2">Focal AR Expression (1-10% cells)</text>
<rect x="639.10" y="719.70" width="40.20" height="20.80" fill="#fc7f75" />
<text x="702.7" y="740.5" font-size="30.2">Negative AR Expression (0-1% cells)</text>
<text x="1199.0" y="74.8" font-size="77" font-weight="bold">c</text>
<text x="1522.7" y="84.8" font-size="21.5" font-weight="bold" text-anchor="middle" textLength="220.5" lengthAdjust="spacingAndGlyphs">DSRCT patient samples</text>
<line x1="1209.00" y1="96.70" x2="1831.30" y2="96.70" stroke="#000" stroke-width="1.6" />
<text x="1233.6" y="125.9" font-size="17.5" font-weight="bold" text-anchor="middle" textLength="18.0" lengthAdjust="spacingAndGlyphs">3T</text>
<text x="1275.6" y="125.9" font-size="17.5" font-weight="bold" text-anchor="middle" textLength="18.0" lengthAdjust="spacingAndGlyphs">5T</text>
<text x="1330.7" y="125.9" font-size="17.5" font-weight="bold" text-anchor="middle" textLength="18.0" lengthAdjust="spacingAndGlyphs">6T</text>
<text x="1380.7" y="125.9" font-size="17.5" font-weight="bold" text-anchor="middle" textLength="18.0" lengthAdjust="spacingAndGlyphs">7T</text>
<text x="1435.8" y="125.9" font-size="17.5" font-weight="bold" text-anchor="middle" textLength="18.0" lengthAdjust="spacingAndGlyphs">8T</text>
<text x="1490.0" y="125.9" font-size="17.5" font-weight="bold" text-anchor="middle" textLength="18.0" lengthAdjust="spacingAndGlyphs">9T</text>
<text x="1541.8" y="125.9" font-size="17.5" font-weight="bold" text-anchor="middle" textLength="26.5" lengthAdjust="spacingAndGlyphs">10T</text>
<text x="1591.8" y="125.9" font-size="17.5" font-weight="bold" text-anchor="middle" textLength="25.7" lengthAdjust="spacingAndGlyphs">11T</text>
<text x="1642.2" y="125.9" font-size="17.5" font-weight="bold" text-anchor="middle" textLength="26.5" lengthAdjust="spacingAndGlyphs">12T</text>
<text x="1692.3" y="125.9" font-size="17.5" font-weight="bold" text-anchor="middle" textLength="26.5" lengthAdjust="spacingAndGlyphs">13T</text>
<text x="1748.7" y="125.9" font-size="17.5" font-weight="bold" text-anchor="middle" textLength="26.5" lengthAdjust="spacingAndGlyphs">14T</text>
<text x="1802.5" y="125.9" font-size="17.5" font-weight="bold" text-anchor="middle" textLength="26.5" lengthAdjust="spacingAndGlyphs">15T</text>
<text x="1197.6" y="188.6" font-size="20" font-weight="bold" text-anchor="end">AR</text>
<text x="1204.8" y="259.4" font-size="20" font-weight="bold" text-anchor="end" textLength="70.0" lengthAdjust="spacingAndGlyphs">GAPDH</text>
<text x="1235.3" y="303.9" font-size="17.5" font-weight="bold" text-anchor="middle">N</text>
<text x="1287.4" y="303.9" font-size="17.5" font-weight="bold" text-anchor="middle">H</text>
<text x="1344.7" y="303.9" font-size="17.5" font-weight="bold" text-anchor="middle">N</text>
<text x="1401.0" y="303.9" font-size="17.5" font-weight="bold" text-anchor="middle">H</text>
<text x="1457.9" y="303.9" font-size="17.5" font-weight="bold" text-anchor="middle">H</text>
<text x="1505.8" y="303.9" font-size="17.5" font-weight="bold" text-anchor="middle">N</text>
<text x="1558.7" y="303.9" font-size="17.5" font-weight="bold" text-anchor="middle">M</text>
<text x="1599.0" y="303.9" font-size="17.5" font-weight="bold" text-anchor="middle">M</text>
<text x="1652.9" y="303.9" font-size="17.5" font-weight="bold" text-anchor="middle">H</text>
<text x="1700.8" y="303.9" font-size="17.5" font-weight="bold" text-anchor="middle">H</text>
<text x="1753.7" y="303.9" font-size="17.5" font-weight="bold" text-anchor="middle">M</text>
<text x="1807.6" y="303.9" font-size="17.5" font-weight="bold" text-anchor="middle">M</text>
<rect x="1835.00" y="170.20" width="14.30" height="3.20" fill="#000" />
<rect x="1835.00" y="237.80" width="14.30" height="3.20" fill="#000" />
<text x="1855.5" y="178.9" font-size="23.4">100 kDa</text>
<text x="1855.5" y="246.7" font-size="23.4">37 kDa</text>
<defs><filter id="bl1" x="-20%" y="-50%" width="140%" height="200%"><feGaussianBlur stdDeviation="1.6"/></filter><filter id="bl2" x="-20%" y="-50%" width="140%" height="200%"><feGaussianBlur stdDeviation="3"/></filter><linearGradient id="g7" x1="0" y1="0" x2="0" y2="1"><stop offset="0" stop-color="#7a7a7a"/><stop offset="1" stop-color="#e0e0e0"/></linearGradient><linearGradient id="g8" x1="0" y1="0" x2="0" y2="1"><stop offset="0" stop-color="#d2d2d2"/><stop offset="1" stop-color="#8a8a8a"/></linearGradient><linearGradient id="g8b" x1="0" y1="0" x2="0" y2="1"><stop offset="0" stop-color="#555"/><stop offset="1" stop-color="#b8b8b8"/></linearGradient><clipPath id="cpAR"><rect x="1209.9" y="143.2" width="627.4" height="71.2"/></clipPath><clipPath id="cpG"><rect x="1208.2" y="224.1" width="629.1" height="49.2"/></clipPath></defs>
<rect x="1209.90" y="143.20" width="627.40" height="71.20" fill="#e9e9e9" />
<g clip-path="url(#cpAR)">
<g filter="url(#bl2)">
<rect x="1263.00" y="180.00" width="42.00" height="12.00" fill="#777" />
<rect x="1368.00" y="180.00" width="44.00" height="26.00" fill="url(#g7)" />
<rect x="1420.00" y="140.00" width="46.00" height="24.00" fill="url(#g8)" />
<rect x="1420.00" y="184.00" width="46.00" height="32.00" fill="url(#g8b)" />
<rect x="1529.00" y="172.00" width="38.00" height="16.00" fill="#dadada" />
<rect x="1628.00" y="172.00" width="40.00" height="20.00" fill="#8a8a8a" />
<rect x="1630.00" y="195.00" width="38.00" height="14.00" fill="#cfcfcf" />
<rect x="1680.00" y="143.00" width="38.00" height="18.00" fill="#c6c6c6" />
<rect x="1680.00" y="171.00" width="38.00" height="22.00" fill="#7d7d7d" />
<rect x="1730.00" y="172.00" width="40.00" height="14.00" fill="#dcdcdc" />
<rect x="1784.00" y="170.00" width="44.00" height="14.00" fill="#dedede" />
<rect x="1320.00" y="171.00" width="44.00" height="4.00" fill="#dcdcdc" />
</g>
<g filter="url(#bl1)">
<rect x="1261" y="168" width="45" height="12.5" rx="5" fill="#000"/>
<rect x="1263" y="191" width="42" height="10" rx="4" fill="#2a2a2a"/>
<rect x="1366" y="169" width="47" height="12" rx="5" fill="#000"/>
<path d="M1418,163 L1467,163 L1467,201 Q1442,183 1418,201 Z" fill="#000"/>
<rect x="1527" y="164.4" width="41" height="6" rx="3" fill="#6a6a6a"/>
<rect x="1576" y="158.5" width="40" height="5" rx="2.5" fill="#b0b0b0"/>
<rect x="1626" y="164.5" width="43" height="8" rx="3" fill="#1e1e1e"/>
<rect x="1627" y="187.5" width="42" height="8" rx="3" fill="#3c3c3c"/>
<rect x="1678" y="161.5" width="41" height="11" rx="4" fill="#000"/>
<rect x="1728" y="162" width="44" height="7" rx="3" fill="#4a4a4a"/>
<rect x="1782" y="158.5" width="48" height="6.5" rx="3" fill="#5a5a5a"/>
</g></g>
<rect x="1208.20" y="224.10" width="629.10" height="49.20" fill="#e2e2e2" />
<g clip-path="url(#cpG)"><g filter="url(#bl1)">
<rect x="1206" y="246" width="55.0" height="14" rx="7" fill="#000"/>
<rect x="1265.4" y="248" width="46.6" height="16" rx="7" fill="#000"/>
<rect x="1318" y="246" width="47.5" height="15" rx="7" fill="#000"/>
<rect x="1369.8" y="244" width="50.9" height="20" rx="7" fill="#000"/>
<rect x="1422.4" y="243" width="55.1" height="16" rx="7" fill="#000"/>
<rect x="1480" y="240" width="38.3" height="15" rx="7" fill="#000"/>
<rect x="1523.4" y="238.5" width="47.6" height="15.5" rx="7" fill="#000"/>
<rect x="1572" y="237.5" width="48.6" height="14.5" rx="7" fill="#000"/>
<rect x="1626" y="240" width="46.0" height="16" rx="7" fill="#000"/>
<rect x="1676.4" y="236" width="42.4" height="21" rx="7" fill="#000"/>
<rect x="1723.3" y="237" width="48.6" height="15" rx="7" fill="#000"/>
<rect x="1778.2" y="232" width="52.2" height="16" rx="7" fill="#000"/>
</g></g>
<text x="1202.0" y="435.6" font-size="71" font-weight="bold">d</text>
<line x1="1364.60" y1="547.70" x2="1942.00" y2="547.70" stroke="#000" stroke-width="3" stroke-dasharray="2.6 3.6"/>
<line x1="1364.60" y1="703.60" x2="1942.00" y2="703.60" stroke="#000" stroke-width="3" stroke-dasharray="2.6 3.6"/>
<line x1="1364.60" y1="390.30" x2="1364.60" y2="861.00" stroke="#000" stroke-width="3.2" />
<line x1="1363.00" y1="859.60" x2="1943.00" y2="859.60" stroke="#000" stroke-width="3.2" />
<line x1="1353.00" y1="391.80" x2="1364.60" y2="391.80" stroke="#000" stroke-width="3" />
<text x="1351.0" y="400.3" font-size="22" font-weight="bold" text-anchor="end" textLength="35.2" lengthAdjust="spacingAndGlyphs" stroke="#000" stroke-width="0.35">100</text>
<line x1="1353.00" y1="547.70" x2="1364.60" y2="547.70" stroke="#000" stroke-width="3" />
<text x="1351.0" y="556.2" font-size="22" font-weight="bold" text-anchor="end" textLength="23.5" lengthAdjust="spacingAndGlyphs" stroke="#000" stroke-width="0.35">10</text>
<line x1="1353.00" y1="703.60" x2="1364.60" y2="703.60" stroke="#000" stroke-width="3" />
<text x="1351.0" y="712.1" font-size="22" font-weight="bold" text-anchor="end" textLength="11.7" lengthAdjust="spacingAndGlyphs" stroke="#000" stroke-width="0.35">1</text>
<line x1="1353.00" y1="859.50" x2="1364.60" y2="859.50" stroke="#000" stroke-width="3" />
<text x="1351.0" y="868.0" font-size="22" font-weight="bold" text-anchor="end" textLength="29.4" lengthAdjust="spacingAndGlyphs" stroke="#000" stroke-width="0.35">0.1</text>
<line x1="1479.00" y1="859.60" x2="1479.00" y2="871.00" stroke="#000" stroke-width="3" />
<text x="1479.0" y="893.4" font-size="22.5" font-weight="bold" text-anchor="middle" textLength="47.5" lengthAdjust="spacingAndGlyphs" stroke="#000" stroke-width="0.35">High</text>
<line x1="1653.50" y1="859.60" x2="1653.50" y2="871.00" stroke="#000" stroke-width="3" />
<text x="1653.5" y="893.4" font-size="22.5" font-weight="bold" text-anchor="middle" textLength="95.0" lengthAdjust="spacingAndGlyphs" stroke="#000" stroke-width="0.35">Moderate</text>
<line x1="1827.30" y1="859.60" x2="1827.30" y2="871.00" stroke="#000" stroke-width="3" />
<text x="1827.3" y="893.4" font-size="22.5" font-weight="bold" text-anchor="middle" textLength="89.1" lengthAdjust="spacingAndGlyphs" stroke="#000" stroke-width="0.35">Negative</text>
<text x="1653.5" y="929.0" font-size="28.5" font-weight="bold" text-anchor="middle" textLength="200.0" lengthAdjust="spacingAndGlyphs" stroke="#000" stroke-width="0.35">AR Expression</text>
<text x="1281.5" y="618.5" font-size="30.5" font-weight="bold" text-anchor="middle" textLength="250.0" lengthAdjust="spacingAndGlyphs" transform="rotate(-90 1281.5 618.5)" stroke="#000" stroke-width="0.5">Relative AR Levels</text>
<text x="1314.5" y="617.0" font-size="30.5" font-weight="bold" text-anchor="middle" textLength="328.0" lengthAdjust="spacingAndGlyphs" transform="rotate(-90 1314.5 617.0)" stroke="#000" stroke-width="0.5">Across DSRCT Samples</text>
<line x1="1422.00" y1="482.20" x2="1537.20" y2="482.20" stroke="#000" stroke-width="2.4" />
<line x1="1479.80" y1="452.30" x2="1479.80" y2="537.70" stroke="#1440f5" stroke-width="2.4" />
<line x1="1450.00" y1="452.30" x2="1508.80" y2="452.30" stroke="#1440f5" stroke-width="2.4" />
<line x1="1450.00" y1="537.70" x2="1508.80" y2="537.70" stroke="#1440f5" stroke-width="2.4" />
<circle cx="1468.00" cy="441.50" r="8.8" fill="#1440f5" />
<circle cx="1491.40" cy="462.80" r="8.8" fill="#1440f5" />
<circle cx="1479.80" cy="501.60" r="8.8" fill="#1440f5" />
<circle cx="1468.00" cy="514.40" r="8.8" fill="#1440f5" />
<circle cx="1491.40" cy="529.90" r="8.8" fill="#1440f5" />
<line x1="1595.40" y1="607.00" x2="1711.00" y2="607.00" stroke="#000" stroke-width="2.4" />
<line x1="1653.50" y1="580.30" x2="1653.50" y2="651.00" stroke="#ff2d0a" stroke-width="2.4" />
<line x1="1623.70" y1="580.30" x2="1682.60" y2="580.30" stroke="#ff2d0a" stroke-width="2.4" />
<line x1="1623.70" y1="651.00" x2="1682.60" y2="651.00" stroke="#ff2d0a" stroke-width="2.4" />
<rect x="1632.90" y="573.30" width="18.00" height="18.00" fill="#ff2d0a" />
<rect x="1656.20" y="577.90" width="18.00" height="18.00" fill="#ff2d0a" />
<rect x="1644.50" y="612.00" width="18.00" height="18.00" fill="#ff2d0a" />
<rect x="1644.50" y="659.40" width="18.00" height="18.00" fill="#ff2d0a" />
<line x1="1769.10" y1="745.20" x2="1884.30" y2="745.20" stroke="#000" stroke-width="2.4" />
<line x1="1826.20" y1="727.30" x2="1826.20" y2="769.20" stroke="#fb9318" stroke-width="2.4" />
<line x1="1797.00" y1="727.30" x2="1857.20" y2="727.30" stroke="#fb9318" stroke-width="2.4" />
<line x1="1797.00" y1="769.20" x2="1857.20" y2="769.20" stroke="#fb9318" stroke-width="2.4" />
<path d="M1804.5,724.6 L1824.5,724.6 L1814.5,741.6 Z" fill="#fb9318"/>
<path d="M1828.6,728.5 L1848.6,728.5 L1838.6,745.5 Z" fill="#fb9318"/>
<path d="M1816.2,765.3 L1836.2,765.3 L1826.2,782.3 Z" fill="#fb9318"/>
<circle cx="1550.00" cy="428.70" r="9" fill="#1440f5" />
<rect x="1541.00" y="452.60" width="18.00" height="18.00" fill="#ff2d0a" />
<path d="M1540,484.5 L1560,484.5 L1550,501.5 Z" fill="#fb9318"/>
<text x="1576.0" y="436.0" font-size="22.3" font-weight="bold" textLength="288.2" lengthAdjust="spacingAndGlyphs" stroke="#000" stroke-width="0.35">High AR Expression (H) &gt;10</text>
<text x="1576.0" y="469.0" font-size="22.3" font-weight="bold" textLength="364.6" lengthAdjust="spacingAndGlyphs" stroke="#000" stroke-width="0.35">Moderate AR Expression (M) [1, 10]</text>
<text x="1576.0" y="502.0" font-size="22.3" font-weight="bold" textLength="316.9" lengthAdjust="spacingAndGlyphs" stroke="#000" stroke-width="0.35">Negative AR Expression (N) &lt;1</text>
<text x="668.0" y="1028.0" font-size="71" font-weight="bold">e</text>
<rect x="752.60" y="969.20" width="422.60" height="654.10" fill="#ebebeb" />
<line x1="844.62" y1="969.20" x2="844.62" y2="1623.30" stroke="#f6f6f6" stroke-width="0.8" />
<line x1="966.17" y1="969.20" x2="966.17" y2="1623.30" stroke="#f6f6f6" stroke-width="0.8" />
<line x1="1087.72" y1="969.20" x2="1087.72" y2="1623.30" stroke="#f6f6f6" stroke-width="0.8" />
<line x1="752.60" y1="1088.60" x2="1175.20" y2="1088.60" stroke="#f6f6f6" stroke-width="0.8" />
<line x1="752.60" y1="1210.00" x2="1175.20" y2="1210.00" stroke="#f6f6f6" stroke-width="0.8" />
<line x1="752.60" y1="1331.40" x2="1175.20" y2="1331.40" stroke="#f6f6f6" stroke-width="0.8" />
<line x1="752.60" y1="1452.80" x2="1175.20" y2="1452.80" stroke="#f6f6f6" stroke-width="0.8" />
<line x1="752.60" y1="1574.20" x2="1175.20" y2="1574.20" stroke="#f6f6f6" stroke-width="0.8" />
<line x1="783.85" y1="969.20" x2="783.85" y2="1623.30" stroke="#fff" stroke-width="1.3" />
<line x1="905.40" y1="969.20" x2="905.40" y2="1623.30" stroke="#fff" stroke-width="1.3" />
<line x1="1026.95" y1="969.20" x2="1026.95" y2="1623.30" stroke="#fff" stroke-width="1.3" />
<line x1="1148.50" y1="969.20" x2="1148.50" y2="1623.30" stroke="#fff" stroke-width="1.3" />
<line x1="752.60" y1="1027.90" x2="1175.20" y2="1027.90" stroke="#fff" stroke-width="1.3" />
<line x1="752.60" y1="1149.30" x2="1175.20" y2="1149.30" stroke="#fff" stroke-width="1.3" />
<line x1="752.60" y1="1270.70" x2="1175.20" y2="1270.70" stroke="#fff" stroke-width="1.3" />
<line x1="752.60" y1="1392.10" x2="1175.20" y2="1392.10" stroke="#fff" stroke-width="1.3" />
<line x1="752.60" y1="1513.50" x2="1175.20" y2="1513.50" stroke="#fff" stroke-width="1.3" />
<text x="747.2" y="1034.4" font-size="18" font-weight="bold" text-anchor="end" fill="#4d4d4d" textLength="23.0" lengthAdjust="spacingAndGlyphs">0.1</text>
<line x1="749.60" y1="1027.90" x2="752.60" y2="1027.90" stroke="#4d4d4d" stroke-width="1" />
<text x="747.2" y="1155.8" font-size="18" font-weight="bold" text-anchor="end" fill="#4d4d4d" textLength="23.0" lengthAdjust="spacingAndGlyphs">0.0</text>
<line x1="749.60" y1="1149.30" x2="752.60" y2="1149.30" stroke="#4d4d4d" stroke-width="1" />
<text x="747.2" y="1277.2" font-size="18" font-weight="bold" text-anchor="end" fill="#4d4d4d" textLength="28.5" lengthAdjust="spacingAndGlyphs">-0.1</text>
<line x1="749.60" y1="1270.70" x2="752.60" y2="1270.70" stroke="#4d4d4d" stroke-width="1" />
<text x="747.2" y="1398.6" font-size="18" font-weight="bold" text-anchor="end" fill="#4d4d4d" textLength="28.5" lengthAdjust="spacingAndGlyphs">-0.2</text>
<line x1="749.60" y1="1392.10" x2="752.60" y2="1392.10" stroke="#4d4d4d" stroke-width="1" />
<text x="747.2" y="1520.0" font-size="18" font-weight="bold" text-anchor="end" fill="#4d4d4d" textLength="28.5" lengthAdjust="spacingAndGlyphs">-0.3</text>
<line x1="749.60" y1="1513.50" x2="752.60" y2="1513.50" stroke="#4d4d4d" stroke-width="1" />
<text x="783.8" y="1641.0" font-size="18" font-weight="bold" text-anchor="middle" fill="#4d4d4d" textLength="28.5" lengthAdjust="spacingAndGlyphs">-0.1</text>
<line x1="783.85" y1="1622.40" x2="783.85" y2="1625.40" stroke="#4d4d4d" stroke-width="1" />
<text x="905.4" y="1641.0" font-size="18" font-weight="bold" text-anchor="middle" fill="#4d4d4d" textLength="23.0" lengthAdjust="spacingAndGlyphs">0.0</text>
<line x1="905.40" y1="1622.40" x2="905.40" y2="1625.40" stroke="#4d4d4d" stroke-width="1" />
<text x="1027.0" y="1641.0" font-size="18" font-weight="bold" text-anchor="middle" fill="#4d4d4d" textLength="23.0" lengthAdjust="spacingAndGlyphs">0.1</text>
<line x1="1026.95" y1="1622.40" x2="1026.95" y2="1625.40" stroke="#4d4d4d" stroke-width="1" />
<text x="1148.5" y="1641.0" font-size="18" font-weight="bold" text-anchor="middle" fill="#4d4d4d" textLength="23.0" lengthAdjust="spacingAndGlyphs">0.2</text>
<line x1="1148.50" y1="1622.40" x2="1148.50" y2="1625.40" stroke="#4d4d4d" stroke-width="1" />
<text x="963.5" y="1662.5" font-size="21.5" font-weight="bold" text-anchor="middle" textLength="131.0" lengthAdjust="spacingAndGlyphs">PC1 (18.18%)</text>
<text x="713.8" y="1296.5" font-size="21.5" font-weight="bold" text-anchor="middle" textLength="128.0" lengthAdjust="spacingAndGlyphs" transform="rotate(-90 713.8 1296.5)">PC2 (9.04%)</text>
<g>
<circle cx="845.70" cy="1121.00" r="6.3" fill="#ff7f50" />
<circle cx="794.10" cy="1090.70" r="6.3" fill="#a035f0" />
<circle cx="845.00" cy="1134.20" r="6.3" fill="#a035f0" />
<circle cx="828.70" cy="1150.50" r="6.3" fill="#a035f0" />
<circle cx="855.10" cy="1154.30" r="6.3" fill="#a035f0" />
<circle cx="857.00" cy="1174.40" r="6.3" fill="#a035f0" />
<circle cx="831.80" cy="1199.80" r="6.3" fill="#a035f0" />
<circle cx="888.10" cy="1314.50" r="6.3" fill="#a035f0" />
<circle cx="900.10" cy="1330.70" r="6.3" fill="#a035f0" />
<circle cx="790.30" cy="1008.50" r="6.3" fill="#0a2cff" />
<circle cx="783.40" cy="1016.40" r="6.3" fill="#0a2cff" />
<circle cx="797.20" cy="1042.20" r="6.3" fill="#0a2cff" />
<circle cx="772.00" cy="1058.40" r="6.3" fill="#0a2cff" />
<circle cx="791.50" cy="1063.60" r="6.3" fill="#0a2cff" />
<circle cx="801.00" cy="1059.20" r="6.3" fill="#0a2cff" />
<circle cx="813.00" cy="1058.60" r="6.3" fill="#0a2cff" />
<circle cx="823.00" cy="1059.90" r="6.3" fill="#0a2cff" />
<circle cx="817.40" cy="1065.50" r="6.3" fill="#0a2cff" />
<circle cx="799.70" cy="1069.30" r="6.3" fill="#0a2cff" />
<circle cx="791.50" cy="1074.40" r="6.3" fill="#0a2cff" />
<circle cx="814.80" cy="1075.60" r="6.3" fill="#0a2cff" />
<circle cx="779.00" cy="1081.90" r="6.3" fill="#0a2cff" />
<circle cx="807.30" cy="1084.40" r="6.3" fill="#0a2cff" />
<circle cx="818.60" cy="1084.40" r="6.3" fill="#0a2cff" />
<circle cx="807.30" cy="1092.00" r="6.3" fill="#0a2cff" />
<circle cx="820.50" cy="1087.60" r="6.3" fill="#0a2cff" />
<circle cx="832.50" cy="1092.00" r="6.3" fill="#0a2cff" />
<circle cx="785.90" cy="1098.90" r="6.3" fill="#0a2cff" />
<circle cx="791.50" cy="1098.90" r="6.3" fill="#0a2cff" />
<circle cx="787.10" cy="1107.10" r="6.3" fill="#0a2cff" />
<circle cx="802.20" cy="1105.80" r="6.3" fill="#0a2cff" />
<circle cx="785.90" cy="1115.30" r="6.3" fill="#0a2cff" />
<circle cx="824.90" cy="1114.60" r="6.3" fill="#0a2cff" />
<circle cx="845.70" cy="1102.00" r="6.3" fill="#0a2cff" />
<circle cx="848.20" cy="1104.60" r="6.3" fill="#0a2cff" />
<circle cx="853.90" cy="1114.60" r="6.3" fill="#0a2cff" />
<circle cx="809.20" cy="1124.70" r="6.3" fill="#0a2cff" />
<circle cx="816.70" cy="1127.90" r="6.3" fill="#0a2cff" />
<circle cx="828.10" cy="1134.80" r="6.3" fill="#0a2cff" />
<circle cx="847.00" cy="1125.30" r="6.3" fill="#0a2cff" />
<circle cx="857.60" cy="1124.10" r="6.3" fill="#0a2cff" />
<circle cx="872.70" cy="1139.80" r="6.3" fill="#0a2cff" />
<circle cx="806.70" cy="1148.60" r="6.3" fill="#0a2cff" />
<circle cx="833.10" cy="1152.40" r="6.3" fill="#0a2cff" />
<circle cx="838.10" cy="1153.70" r="6.3" fill="#0a2cff" />
<circle cx="831.80" cy="1163.70" r="6.3" fill="#0a2cff" />
<circle cx="788.40" cy="1179.50" r="6.3" fill="#0a2cff" />
<circle cx="855.80" cy="1180.10" r="6.3" fill="#0a2cff" />
<circle cx="853.20" cy="1191.40" r="6.3" fill="#0a2cff" />
<circle cx="915.60" cy="1154.30" r="6.3" fill="#0a2cff" />
<circle cx="920.60" cy="1185.80" r="6.3" fill="#0a2cff" />
<circle cx="807.50" cy="1217.80" r="6.3" fill="#0a2cff" />
<circle cx="816.20" cy="1216.00" r="6.3" fill="#0a2cff" />
<circle cx="832.70" cy="1214.70" r="6.3" fill="#0a2cff" />
<circle cx="826.40" cy="1233.00" r="6.3" fill="#0a2cff" />
<circle cx="832.70" cy="1238.40" r="6.3" fill="#0a2cff" />
<circle cx="854.30" cy="1284.30" r="6.3" fill="#0a2cff" />
<circle cx="884.00" cy="1307.70" r="6.3" fill="#0a2cff" />
<circle cx="847.10" cy="1337.30" r="6.3" fill="#0a2cff" />
<circle cx="844.90" cy="1424.90" r="6.3" fill="#0a2cff" />
<circle cx="854.80" cy="1470.40" r="6.3" fill="#0a2cff" />
<circle cx="927.50" cy="1127.20" r="6.3" fill="#ff7f50" />
<circle cx="940.70" cy="1163.70" r="6.3" fill="#ff7f50" />
<circle cx="936.10" cy="1228.20" r="6.3" fill="#ff7f50" />
<circle cx="885.70" cy="1300.80" r="6.3" fill="#ff7f50" />
<circle cx="865.80" cy="1113.40" r="6.3" fill="#00ffff" />
<circle cx="913.70" cy="1099.50" r="6.3" fill="#00ffff" />
<circle cx="917.40" cy="1133.50" r="6.3" fill="#00ffff" />
<circle cx="956.10" cy="1156.70" r="6.3" fill="#a52a2a" />
<circle cx="1010.80" cy="1200.40" r="6.3" fill="#a52a2a" />
<circle cx="1018.00" cy="1203.30" r="6.3" fill="#a52a2a" />
<circle cx="1021.40" cy="1206.80" r="6.3" fill="#a52a2a" />
<circle cx="1028.60" cy="1227.20" r="6.3" fill="#a52a2a" />
<circle cx="993.50" cy="1287.30" r="6.3" fill="#a52a2a" />
<circle cx="997.30" cy="1289.10" r="6.3" fill="#a52a2a" />
<circle cx="1018.80" cy="1306.30" r="6.3" fill="#a52a2a" />
<circle cx="1047.60" cy="1465.20" r="6.3" fill="#a52a2a" />
<circle cx="1012.50" cy="1506.00" r="6.3" fill="#a52a2a" />
<circle cx="1002.40" cy="1533.40" r="6.3" fill="#a52a2a" />
<circle cx="1018.80" cy="1594.10" r="6.3" fill="#a52a2a" />
<circle cx="1082.30" cy="998.20" r="6.3" fill="#ff2600" />
<circle cx="1129.10" cy="1000.80" r="6.3" fill="#ff2600" />
<circle cx="1145.50" cy="1011.40" r="6.3" fill="#ff2600" />
<circle cx="1153.30" cy="1014.20" r="6.3" fill="#ff2600" />
<circle cx="1156.10" cy="1026.70" r="6.3" fill="#ff2600" />
<circle cx="1116.30" cy="1016.90" r="6.3" fill="#ff2600" />
<circle cx="1079.70" cy="1029.80" r="6.3" fill="#ff2600" />
<circle cx="1097.50" cy="1029.80" r="6.3" fill="#ff2600" />
<circle cx="1122.60" cy="1035.90" r="6.3" fill="#ff2600" />
<circle cx="1137.20" cy="1046.00" r="6.3" fill="#ff2600" />
<circle cx="1079.50" cy="1052.40" r="6.3" fill="#ff2600" />
<circle cx="1105.00" cy="1052.00" r="6.3" fill="#ff2600" />
<circle cx="1108.50" cy="1066.50" r="6.3" fill="#ff2600" />
<circle cx="1123.70" cy="1063.30" r="6.3" fill="#ff2600" />
<circle cx="1080.50" cy="1076.90" r="6.3" fill="#ff2600" />
<circle cx="1008.00" cy="1071.00" r="6.3" fill="#ff2600" />
<circle cx="1025.50" cy="1068.80" r="6.3" fill="#ff2600" />
<circle cx="1064.40" cy="1105.70" r="6.3" fill="#ff2600" />
<circle cx="992.30" cy="1115.10" r="6.3" fill="#ff2600" />
<circle cx="1097.20" cy="1119.00" r="6.3" fill="#ff2600" />
<circle cx="1084.20" cy="1159.00" r="6.3" fill="#ff2600" />
<circle cx="1112.70" cy="1181.00" r="6.3" fill="#ff2600" />
</g>
<ellipse cx="1091" cy="1086.6" rx="98" ry="127.5" transform="rotate(33 1091 1086.6)" fill="none" stroke="#000" stroke-width="2.2" stroke-dasharray="2.2 2.6"/>
<rect x="948.3" y="1145.6" width="125.2" height="457.8" fill="none" stroke="#000" stroke-width="4" stroke-dasharray="4 3.6"/>
<text x="1084.0" y="1110.1" font-size="31" font-weight="bold" textLength="104.6" lengthAdjust="spacingAndGlyphs">DSRCT</text>
<text x="1012.6" y="1393.2" font-size="31" font-weight="bold" text-anchor="middle" textLength="122.9" lengthAdjust="spacingAndGlyphs">Prostate</text>
<text x="1013.6" y="1427.8" font-size="31" font-weight="bold" text-anchor="middle" textLength="105.3" lengthAdjust="spacingAndGlyphs">Cancer</text>
<text x="1187.3" y="1247.9" font-size="21" font-weight="bold" textLength="74.7" lengthAdjust="spacingAndGlyphs">Groups</text>
<rect x="1186.50" y="1262.50" width="17.00" height="101.00" fill="#f2f2f2" />
<defs><clipPath id="cpLeg"><rect x="1180" y="1255" width="125.5" height="120"/></clipPath></defs>
<g clip-path="url(#cpLeg)">
<circle cx="1194.70" cy="1270.70" r="6.5" fill="#a035f0" />
<text x="1213.2" y="1276.7" font-size="17" font-weight="bold" textLength="70.8" lengthAdjust="spacingAndGlyphs">Chondro</text>
<circle cx="1194.70" cy="1287.48" r="6.5" fill="#00ffff" />
<text x="1213.2" y="1293.5" font-size="17" font-weight="bold" textLength="57.6" lengthAdjust="spacingAndGlyphs">DDLPS</text>
<circle cx="1194.70" cy="1304.26" r="6.5" fill="#ff2600" />
<text x="1213.2" y="1310.3" font-size="17" font-weight="bold" textLength="58.6" lengthAdjust="spacingAndGlyphs">DSRCT</text>
<circle cx="1194.70" cy="1321.04" r="6.5" fill="#0a2cff" />
<text x="1213.2" y="1327.0" font-size="17" font-weight="bold" textLength="48.2" lengthAdjust="spacingAndGlyphs">Osteo</text>
<circle cx="1194.70" cy="1337.82" r="6.5" fill="#a52a2a" />
<text x="1213.2" y="1343.8" font-size="17" font-weight="bold" textLength="127.6" lengthAdjust="spacingAndGlyphs">Prostate.cancer</text>
<circle cx="1194.70" cy="1354.60" r="6.5" fill="#ff7f50" />
<text x="1213.2" y="1360.6" font-size="17" font-weight="bold" textLength="61.4" lengthAdjust="spacingAndGlyphs">WDLPS</text>
</g>
<text x="1355.0" y="1028.6" font-size="71" font-weight="bold" textLength="28.0" lengthAdjust="spacingAndGlyphs">f</text>
<rect x="1457.50" y="1013.30" width="412.30" height="609.60" fill="#ebebeb" />
<line x1="1531.80" y1="1013.30" x2="1531.80" y2="1622.90" stroke="#f5f5f5" stroke-width="0.8" />
<line x1="1628.00" y1="1013.30" x2="1628.00" y2="1622.90" stroke="#f5f5f5" stroke-width="0.8" />
<line x1="1724.20" y1="1013.30" x2="1724.20" y2="1622.90" stroke="#f5f5f5" stroke-width="0.8" />
<line x1="1820.40" y1="1013.30" x2="1820.40" y2="1622.90" stroke="#f5f5f5" stroke-width="0.8" />
<line x1="1483.70" y1="1013.30" x2="1483.70" y2="1622.90" stroke="#fff" stroke-width="1.3" />
<line x1="1579.90" y1="1013.30" x2="1579.90" y2="1622.90" stroke="#fff" stroke-width="1.3" />
<line x1="1676.10" y1="1013.30" x2="1676.10" y2="1622.90" stroke="#fff" stroke-width="1.3" />
<line x1="1772.30" y1="1013.30" x2="1772.30" y2="1622.90" stroke="#fff" stroke-width="1.3" />
<line x1="1868.50" y1="1013.30" x2="1868.50" y2="1622.90" stroke="#fff" stroke-width="1.3" />
<line x1="1457.50" y1="1070.90" x2="1869.80" y2="1070.90" stroke="#fff" stroke-width="1.3" />
<line x1="1453.50" y1="1070.90" x2="1457.50" y2="1070.90" stroke="#4d4d4d" stroke-width="1" />
<line x1="1457.50" y1="1170.00" x2="1869.80" y2="1170.00" stroke="#fff" stroke-width="1.3" />
<line x1="1453.50" y1="1170.00" x2="1457.50" y2="1170.00" stroke="#4d4d4d" stroke-width="1" />
<line x1="1457.50" y1="1268.10" x2="1869.80" y2="1268.10" stroke="#fff" stroke-width="1.3" />
<line x1="1453.50" y1="1268.10" x2="1457.50" y2="1268.10" stroke="#4d4d4d" stroke-width="1" />
<line x1="1457.50" y1="1366.70" x2="1869.80" y2="1366.70" stroke="#fff" stroke-width="1.3" />
<line x1="1453.50" y1="1366.70" x2="1457.50" y2="1366.70" stroke="#4d4d4d" stroke-width="1" />
<line x1="1457.50" y1="1465.40" x2="1869.80" y2="1465.40" stroke="#fff" stroke-width="1.3" />
<line x1="1453.50" y1="1465.40" x2="1457.50" y2="1465.40" stroke="#4d4d4d" stroke-width="1" />
<line x1="1457.50" y1="1564.00" x2="1869.80" y2="1564.00" stroke="#fff" stroke-width="1.3" />
<line x1="1453.50" y1="1564.00" x2="1457.50" y2="1564.00" stroke="#4d4d4d" stroke-width="1" />
<text x="1478.2" y="1005.5" font-size="17" text-anchor="end" fill="#4d4d4d" transform="rotate(90 1478.2 1005.5)">0</text>
<line x1="1483.70" y1="1009.50" x2="1483.70" y2="1013.30" stroke="#4d4d4d" stroke-width="1" />
<text x="1574.4" y="1005.5" font-size="17" text-anchor="end" fill="#4d4d4d" transform="rotate(90 1574.4 1005.5)">5</text>
<line x1="1579.90" y1="1009.50" x2="1579.90" y2="1013.30" stroke="#4d4d4d" stroke-width="1" />
<text x="1670.6" y="1005.5" font-size="17" text-anchor="end" fill="#4d4d4d" transform="rotate(90 1670.6 1005.5)">10</text>
<line x1="1676.10" y1="1009.50" x2="1676.10" y2="1013.30" stroke="#4d4d4d" stroke-width="1" />
<text x="1766.8" y="1005.5" font-size="17" text-anchor="end" fill="#4d4d4d" transform="rotate(90 1766.8 1005.5)">15</text>
<line x1="1772.30" y1="1009.50" x2="1772.30" y2="1013.30" stroke="#4d4d4d" stroke-width="1" />
<text x="1863.0" y="1005.5" font-size="17" text-anchor="end" fill="#4d4d4d" transform="rotate(90 1863.0 1005.5)">20</text>
<line x1="1868.50" y1="1009.50" x2="1868.50" y2="1013.30" stroke="#4d4d4d" stroke-width="1" />
<text x="1663.4" y="972.7" font-size="21" font-weight="bold" text-anchor="middle" textLength="172.4" lengthAdjust="spacingAndGlyphs">AR expression (log2)</text>
<text x="1389.8" y="1088.4" font-size="22" font-weight="bold" text-anchor="middle" fill="#4d4d4d" textLength="55.4" lengthAdjust="spacingAndGlyphs">DSRCT</text>
<text x="1389.8" y="1187.5" font-size="22" font-weight="bold" text-anchor="middle" fill="#4d4d4d" textLength="120.9" lengthAdjust="spacingAndGlyphs">Prostate.cancer</text>
<text x="1389.8" y="1285.6" font-size="22" font-weight="bold" text-anchor="middle" fill="#4d4d4d" textLength="66.0" lengthAdjust="spacingAndGlyphs">Chondro</text>
<text x="1389.8" y="1384.2" font-size="22" font-weight="bold" text-anchor="middle" fill="#4d4d4d" textLength="57.0" lengthAdjust="spacingAndGlyphs">WDLPS</text>
<text x="1389.8" y="1482.9" font-size="22" font-weight="bold" text-anchor="middle" fill="#4d4d4d" textLength="55.4" lengthAdjust="spacingAndGlyphs">DDLPS</text>
<text x="1389.8" y="1581.5" font-size="22" font-weight="bold" text-anchor="middle" fill="#4d4d4d" textLength="44.5" lengthAdjust="spacingAndGlyphs">Osteo</text>
<line x1="1558.70" y1="1070.90" x2="1632.90" y2="1070.90" stroke="#333" stroke-width="1.2" />
<rect x="1577.5" y="1033.9" width="34.5" height="74" fill="#ff2600" stroke="#333" stroke-width="1.2"/>
<line x1="1597.10" y1="1033.90" x2="1597.10" y2="1107.90" stroke="#333" stroke-width="1.6" />
<ellipse cx="1515.1" cy="1071.7" rx="3.3" ry="4.1" fill="#000"/>
<ellipse cx="1558.7" cy="1071.7" rx="3.3" ry="4.1" fill="#000"/>
<ellipse cx="1570.0" cy="1071.7" rx="3.3" ry="4.1" fill="#000"/>
<ellipse cx="1577.0" cy="1071.7" rx="3.3" ry="4.1" fill="#000"/>
<ellipse cx="1584.0" cy="1071.7" rx="3.3" ry="4.1" fill="#000"/>
<ellipse cx="1592.8" cy="1071.7" rx="3.3" ry="4.1" fill="#000"/>
<ellipse cx="1603.2" cy="1071.7" rx="3.3" ry="4.1" fill="#000"/>
<ellipse cx="1608.5" cy="1071.7" rx="3.3" ry="4.1" fill="#000"/>
<ellipse cx="1612.8" cy="1071.7" rx="3.3" ry="4.1" fill="#000"/>
<ellipse cx="1618.5" cy="1071.7" rx="3.3" ry="4.1" fill="#000"/>
<ellipse cx="1628.5" cy="1071.7" rx="3.3" ry="4.1" fill="#000"/>
<ellipse cx="1632.9" cy="1071.7" rx="3.3" ry="4.1" fill="#000"/>
<line x1="1620.70" y1="1170.00" x2="1717.10" y2="1170.00" stroke="#333" stroke-width="1.2" />
<rect x="1630.7" y="1133.0" width="39.7" height="74" fill="#a52a2a" stroke="#333" stroke-width="1.2"/>
<line x1="1653.80" y1="1133.00" x2="1653.80" y2="1207.00" stroke="#333" stroke-width="1.6" />
<ellipse cx="1620.7" cy="1170.8" rx="3.3" ry="4.1" fill="#000"/>
<ellipse cx="1632.9" cy="1170.8" rx="3.3" ry="4.1" fill="#000"/>
<ellipse cx="1642.5" cy="1170.8" rx="3.3" ry="4.1" fill="#000"/>
<ellipse cx="1646.0" cy="1170.8" rx="3.3" ry="4.1" fill="#000"/>
<ellipse cx="1660.4" cy="1170.8" rx="3.3" ry="4.1" fill="#000"/>
<ellipse cx="1666.9" cy="1170.8" rx="3.3" ry="4.1" fill="#000"/>
<ellipse cx="1684.0" cy="1170.8" rx="3.3" ry="4.1" fill="#000"/>
<ellipse cx="1689.6" cy="1170.8" rx="3.3" ry="4.1" fill="#000"/>
<ellipse cx="1717.1" cy="1170.8" rx="3.3" ry="4.1" fill="#000"/>
<line x1="1492.40" y1="1268.10" x2="1577.00" y2="1268.10" stroke="#333" stroke-width="1.2" />
<rect x="1512.9" y="1231.1" width="28.4" height="74" fill="#a035f0" stroke="#333" stroke-width="1.2"/>
<line x1="1528.20" y1="1231.10" x2="1528.20" y2="1305.10" stroke="#333" stroke-width="1.6" />
<ellipse cx="1492.4" cy="1268.9" rx="3.3" ry="4.1" fill="#000"/>
<ellipse cx="1502.0" cy="1268.9" rx="3.3" ry="4.1" fill="#000"/>
<ellipse cx="1512.9" cy="1268.9" rx="3.3" ry="4.1" fill="#000"/>
<ellipse cx="1528.2" cy="1268.9" rx="3.3" ry="4.1" fill="#000"/>
<ellipse cx="1540.4" cy="1268.9" rx="3.3" ry="4.1" fill="#000"/>
<ellipse cx="1562.2" cy="1268.9" rx="3.3" ry="4.1" fill="#000"/>
<ellipse cx="1577.0" cy="1268.9" rx="3.3" ry="4.1" fill="#000"/>
<line x1="1545.60" y1="1366.70" x2="1594.90" y2="1366.70" stroke="#333" stroke-width="1.2" />
<rect x="1553.5" y="1329.7" width="24.8" height="74" fill="#ff7f50" stroke="#333" stroke-width="1.2"/>
<line x1="1574.00" y1="1329.70" x2="1574.00" y2="1403.70" stroke="#333" stroke-width="1.6" />
<ellipse cx="1488.9" cy="1367.5" rx="3.3" ry="4.1" fill="#000"/>
<ellipse cx="1545.6" cy="1367.5" rx="3.3" ry="4.1" fill="#000"/>
<ellipse cx="1550.9" cy="1367.5" rx="3.3" ry="4.1" fill="#000"/>
<ellipse cx="1564.0" cy="1367.5" rx="3.3" ry="4.1" fill="#000"/>
<ellipse cx="1574.0" cy="1367.5" rx="3.3" ry="4.1" fill="#000"/>
<ellipse cx="1579.7" cy="1367.5" rx="3.3" ry="4.1" fill="#000"/>
<ellipse cx="1594.9" cy="1367.5" rx="3.3" ry="4.1" fill="#000"/>
<line x1="1486.70" y1="1465.40" x2="1604.50" y2="1465.40" stroke="#333" stroke-width="1.2" />
<rect x="1549.1" y="1428.4" width="37.1" height="74" fill="#00ffff" stroke="#333" stroke-width="1.2"/>
<line x1="1570.90" y1="1428.40" x2="1570.90" y2="1502.40" stroke="#333" stroke-width="1.6" />
<ellipse cx="1486.7" cy="1466.2" rx="3.3" ry="4.1" fill="#000"/>
<ellipse cx="1496.8" cy="1466.2" rx="3.3" ry="4.1" fill="#000"/>
<ellipse cx="1546.9" cy="1466.2" rx="3.3" ry="4.1" fill="#000"/>
<ellipse cx="1559.6" cy="1466.2" rx="3.3" ry="4.1" fill="#000"/>
<ellipse cx="1571.8" cy="1466.2" rx="3.3" ry="4.1" fill="#000"/>
<ellipse cx="1580.5" cy="1466.2" rx="3.3" ry="4.1" fill="#000"/>
<ellipse cx="1588.0" cy="1466.2" rx="3.3" ry="4.1" fill="#000"/>
<ellipse cx="1591.4" cy="1466.2" rx="3.3" ry="4.1" fill="#000"/>
<ellipse cx="1604.5" cy="1466.2" rx="3.3" ry="4.1" fill="#000"/>
<line x1="1474.90" y1="1564.00" x2="1598.00" y2="1564.00" stroke="#333" stroke-width="1.2" />
<rect x="1531.2" y="1527.0" width="34.1" height="74" fill="#0a2cff" stroke="#333" stroke-width="1.2"/>
<line x1="1549.10" y1="1527.00" x2="1549.10" y2="1601.00" stroke="#333" stroke-width="1.6" />
<ellipse cx="1474.9" cy="1564.8" rx="3.3" ry="4.1" fill="#000"/>
<ellipse cx="1486.7" cy="1564.8" rx="3.3" ry="4.1" fill="#000"/>
<ellipse cx="1498.5" cy="1564.8" rx="3.3" ry="4.1" fill="#000"/>
<ellipse cx="1505.5" cy="1564.8" rx="3.3" ry="4.1" fill="#000"/>
<ellipse cx="1515.1" cy="1564.8" rx="3.3" ry="4.1" fill="#000"/>
<ellipse cx="1518.6" cy="1564.8" rx="3.3" ry="4.1" fill="#000"/>
<ellipse cx="1526.0" cy="1564.8" rx="3.3" ry="4.1" fill="#000"/>
<ellipse cx="1529.5" cy="1564.8" rx="3.3" ry="4.1" fill="#000"/>
<ellipse cx="1533.4" cy="1564.8" rx="3.3" ry="4.1" fill="#000"/>
<ellipse cx="1536.9" cy="1564.8" rx="3.3" ry="4.1" fill="#000"/>
<ellipse cx="1540.4" cy="1564.8" rx="3.3" ry="4.1" fill="#000"/>
<ellipse cx="1544.3" cy="1564.8" rx="3.3" ry="4.1" fill="#000"/>
<ellipse cx="1547.8" cy="1564.8" rx="3.3" ry="4.1" fill="#000"/>
<ellipse cx="1551.3" cy="1564.8" rx="3.3" ry="4.1" fill="#000"/>
<ellipse cx="1555.2" cy="1564.8" rx="3.3" ry="4.1" fill="#000"/>
<ellipse cx="1558.7" cy="1564.8" rx="3.3" ry="4.1" fill="#000"/>
<ellipse cx="1562.2" cy="1564.8" rx="3.3" ry="4.1" fill="#000"/>
<ellipse cx="1567.4" cy="1564.8" rx="3.3" ry="4.1" fill="#000"/>
<ellipse cx="1570.5" cy="1564.8" rx="3.3" ry="4.1" fill="#000"/>
<ellipse cx="1579.7" cy="1564.8" rx="3.3" ry="4.1" fill="#000"/>
<ellipse cx="1585.8" cy="1564.8" rx="3.3" ry="4.1" fill="#000"/>
<ellipse cx="1591.4" cy="1564.8" rx="3.3" ry="4.1" fill="#000"/>
<ellipse cx="1598.0" cy="1564.8" rx="3.3" ry="4.1" fill="#000"/>
<path d="M1727.8,1070.9 H1736.3 V1170.0 H1727.8" fill="none" stroke="#111" stroke-width="1.6"/>
<text x="1740.8" y="1121.0" font-size="19" text-anchor="middle" fill="#333" transform="rotate(90 1740.8 1121.0)">***</text>
<path d="M1757.5,1070.9 H1766 V1268.1 H1757.5" fill="none" stroke="#111" stroke-width="1.6"/>
<text x="1770.0" y="1170.0" font-size="19" text-anchor="middle" fill="#333" transform="rotate(90 1770.0 1170.0)">***</text>
<path d="M1785.0,1070.9 H1793.5 V1366.7 H1785.0" fill="none" stroke="#111" stroke-width="1.6"/>
<text x="1798.4" y="1219.3" font-size="19" text-anchor="middle" fill="#333" transform="rotate(90 1798.4 1219.3)">**</text>
<path d="M1814.2,1070.9 H1822.7 V1465.4 H1814.2" fill="none" stroke="#111" stroke-width="1.6"/>
<text x="1826.8" y="1268.0" font-size="19" text-anchor="middle" fill="#333" transform="rotate(90 1826.8 1268.0)">*</text>
<path d="M1843.4,1070.9 H1851.9 V1564.0 H1843.4" fill="none" stroke="#111" stroke-width="1.6"/>
<text x="1856.0" y="1317.4" font-size="19" text-anchor="middle" fill="#333" transform="rotate(90 1856.0 1317.4)">***</text>
</svg>
</body></html>
